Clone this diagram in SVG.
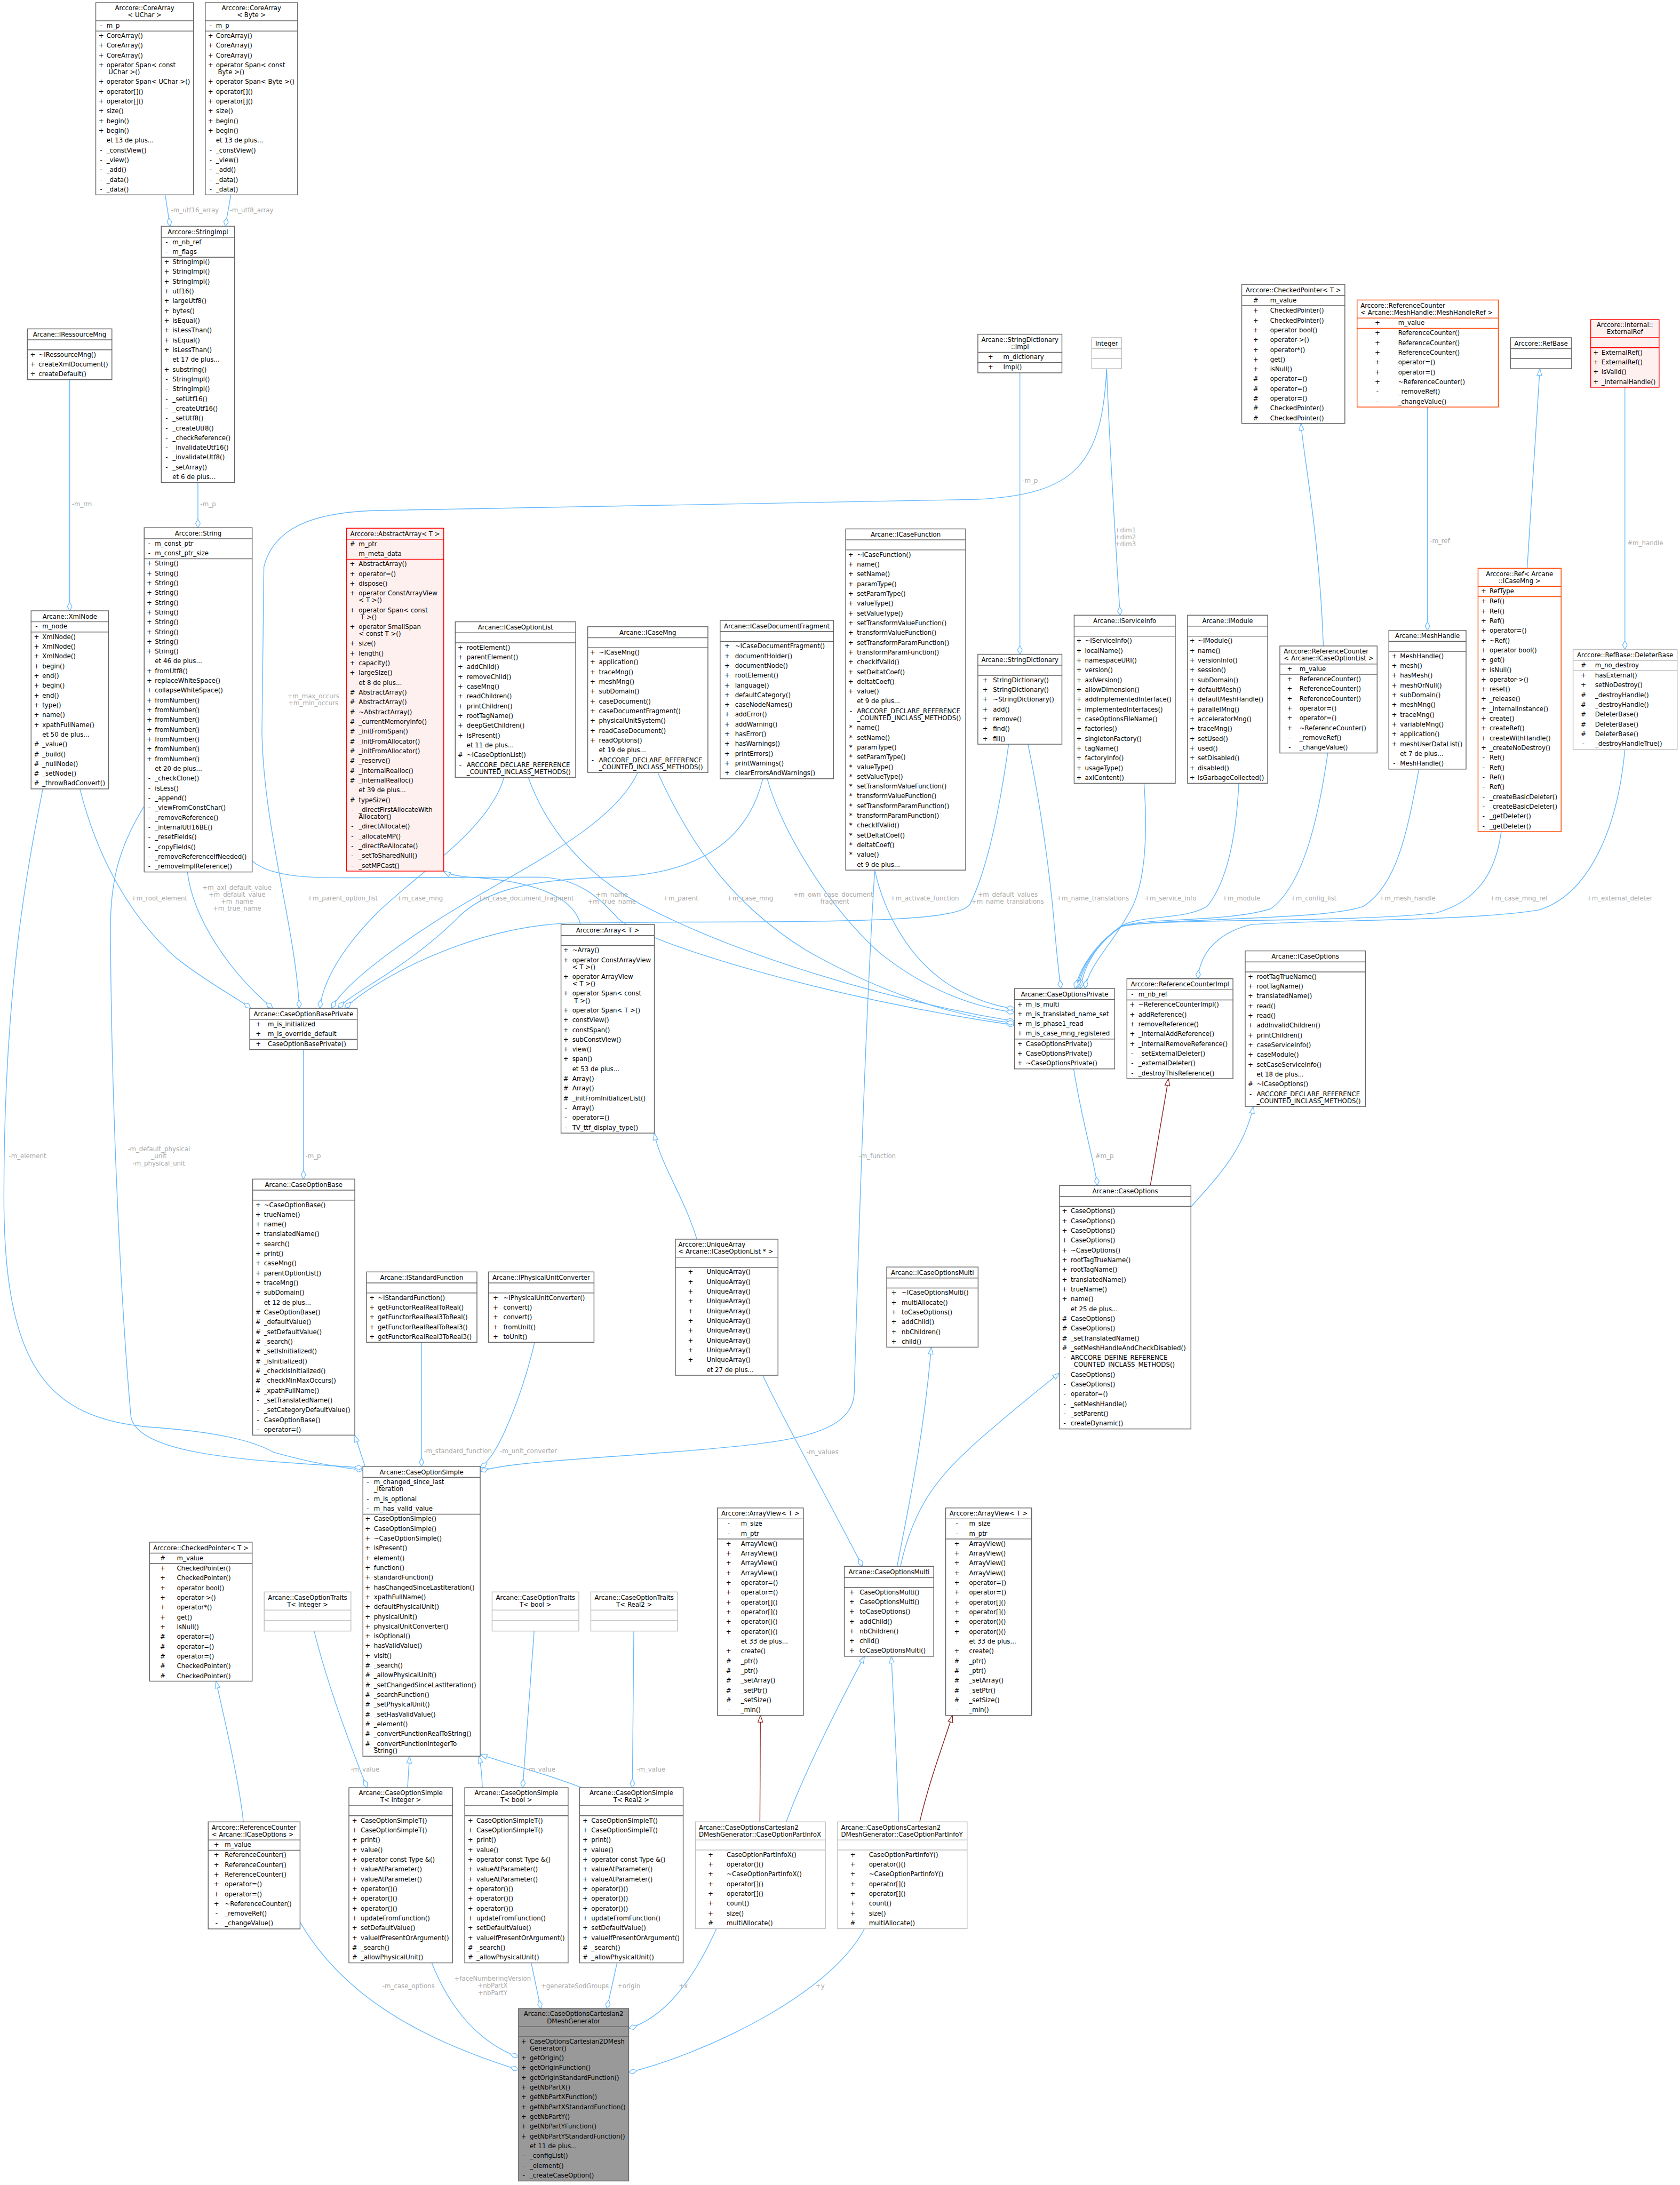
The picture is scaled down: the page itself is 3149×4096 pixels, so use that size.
<svg xmlns="http://www.w3.org/2000/svg" width="3149" height="4096" viewBox="0 0 3149 4096">
<style>
text{font-family:"DejaVu Sans","Liberation Sans",sans-serif;font-size:12.85px;fill:#000}
.t{text-anchor:middle}
.c{text-anchor:middle}
.b{fill:#fff;stroke:#666;stroke-width:1.6}
.s{fill:none;stroke:#666;stroke-width:1.6}
.bl{fill:#fff;stroke:#bfbfbf;stroke-width:1.6}
.sl{fill:none;stroke:#bfbfbf;stroke-width:1.6}
.br{fill:#fff0f0;stroke:#f00;stroke-width:1.6}
.sr{fill:none;stroke:#f00;stroke-width:1.6}
.bo{fill:#fff;stroke:#ff4500;stroke-width:1.6}
.so{fill:none;stroke:#ff4500;stroke-width:1.6}
.bm{fill:#999;stroke:#666;stroke-width:1.6}
.e{fill:none;stroke:#63b8ff;stroke-width:1.5}
.ed{fill:none;stroke:#8b1a1a;stroke-width:1.5}
.d{marker-end:url(#dia)}
.i{marker-end:url(#tri)}
.ir{marker-end:url(#trir)}
.l{fill:#a9a9a9}
.lm{fill:#a9a9a9;text-anchor:middle}
</style>
<defs>
<marker id="dia" markerWidth="20" markerHeight="12" refX="18.5" refY="6" orient="auto" markerUnits="userSpaceOnUse" viewBox="0 0 20 12"><path d="M1,6 L9.75,1.2 L18.5,6 L9.75,10.8 Z" fill="#fff" stroke="#63b8ff" stroke-width="1.3"/></marker>
<marker id="tri" markerWidth="16" markerHeight="12" refX="15" refY="6" orient="auto" markerUnits="userSpaceOnUse" viewBox="0 0 16 12"><path d="M1,1 L15,6 L1,11 Z" fill="#fff" stroke="#63b8ff" stroke-width="1.3"/></marker>
<marker id="trir" markerWidth="16" markerHeight="12" refX="15" refY="6" orient="auto" markerUnits="userSpaceOnUse" viewBox="0 0 16 12"><path d="M1,1 L15,6 L1,11 Z" fill="#fff" stroke="#8b1a1a" stroke-width="1.3"/></marker>
</defs>
<rect width="3149" height="4096" fill="#fff"/>
<g transform="scale(0.916)">
<g id="connectors">
<path class="e d" d="M338,399 L348,463"/>
<path class="e d" d="M472.5,399 L461,463"/>
<path class="e d" d="M405,987.5 L405,1080"/>
<path class="e d" d="M142.6,777 L142.6,1250"/>
<path class="e d" d="M87.7,1614.5 C50,1800 8,2050 8,2450 C8,2800 100,2900 300,2920 C450,2930 520,2950 560,2972 C640,2995 700,3003 742.6,3009"/>
<path class="e d" d="M295,1650 C245,1730 226,1800 226,1900 C228,2300 250,2700 268,2900 C285,2985 560,2990 742.6,3004"/>
<path class="e d" d="M163.5,1614.5 C200,1760 270,1880 360,1960 C430,2015 490,2045 513,2063.5"/>
<path class="e d" d="M383.5,1784.5 C395,1880 470,1990 558,2063.5"/>
<path class="e d" d="M2264.5,754.5 C2255,950 2200,1012 2000,1022 L760,1045 C640,1050 560,1080 540,1160 L536,1500 C540,1700 605,1900 612.5,2063.5"/>
<path class="e d" d="M1031.5,1590.8 C1000,1700 850,1790 770,1870 C700,1940 660,2010 654.5,2063.5"/>
<path class="e d" d="M1305,1581 C1250,1700 1040,1790 900,1880 C790,1950 700,2020 678.6,2063.5"/>
<path class="e d" d="M1561,1593.7 C1530,1720 1430,1790 1250,1795 C1060,1800 980,1830 930,1885 C820,1990 720,2030 692,2063.5"/>
<path class="e d" d="M2064,1523 C2040,1700 2010,1800 1985,1850 C1965,1882 1800,1887 1400,1887 L1160,1889 C950,1900 760,2010 705.4,2063.5"/>
<path class="e d" d="M516,1762 C560,1800 650,1797 800,1796 L1100,1795 C1180,1795 1225,1835 1265,1880 C1320,1930 1700,2045 2076,2098"/>
<path class="e d" d="M1081,1590.8 C1120,1700 1200,1790 1310,1850 C1500,1950 1800,2045 2076,2090"/>
<path class="e d" d="M1346,1581 C1400,1700 1480,1840 1650,1945 C1800,2030 1950,2080 2076,2094"/>
<path class="e d" d="M1570,1593.7 C1600,1700 1690,1850 1800,1950 C1900,2030 2000,2062 2076,2072"/>
<path class="e d" d="M1790,1780.7 C1805,1850 1850,1960 1950,2020 C2000,2048 2040,2060 2076,2064"/>
<path class="e d" d="M2103.5,1523 C2130,1650 2150,1800 2158,1900 C2163,1960 2168,2000 2170.6,2023"/>
<path class="e d" d="M2341,1603 C2348,1700 2345,1790 2320,1850 C2280,1930 2230,1970 2220,2023"/>
<path class="e d" d="M2535,1603 C2530,1700 2515,1800 2470,1855 C2420,1885 2330,1870 2290,1898 C2240,1935 2215,1985 2212,2023"/>
<path class="e d" d="M2717,1541 C2700,1660 2670,1810 2600,1860 C2500,1890 2330,1876 2292,1898 C2240,1935 2212,1985 2207,2023"/>
<path class="e d" d="M2903.6,1574 C2880,1700 2860,1810 2790,1855 C2700,1885 2380,1878 2295,1896 C2240,1930 2210,1985 2203,2023"/>
<path class="e d" d="M3072,1702 C3060,1790 3020,1845 2940,1868 C2780,1888 2380,1880 2298,1894 C2240,1930 2208,1985 2200,2023"/>
<path class="e d" d="M3325,1533.5 C3310,1700 3250,1830 3150,1862 C3000,1886 2700,1882 2560,1892 C2480,1912 2455,1960 2451,2003"/>
<path class="e d" d="M621,2148 L621,2413"/>
<path class="e d" d="M2197,2187.5 C2215,2300 2240,2380 2245.6,2426"/>
<path class="e d" d="M1790,1780.7 C1770,2100 1755,2600 1748,2850 C1745,2940 1600,2952 1420,2968 C1200,2986 1040,2992 982.6,3011"/>
<path class="e d" d="M862.7,2747 L862.7,3001"/>
<path class="e d" d="M1094,2747 C1070,2850 1030,2945 1005,2980 C995,2993 988,3000 982.6,3004"/>
<path class="e d" d="M1560.7,2814.5 C1600,2900 1690,3060 1765,3205.6"/>
<path class="e d" d="M643,3338 C670,3450 720,3580 751,3658.5"/>
<path class="e d" d="M1093,3338 C1085,3450 1075,3580 1069.5,3658.5"/>
<path class="e d" d="M1297,3338 L1294,3658.5"/>
<path class="e d" d="M614,3934 C700,4080 850,4170 1061,4236"/>
<path class="e d" d="M883.5,4017 C920,4110 980,4180 1061,4210"/>
<path class="e d" d="M1087,4017 L1106.7,4110.6"/>
<path class="e d" d="M1262.7,4017 L1242,4110.6"/>
<path class="e d" d="M1466,3947 C1420,4050 1360,4130 1286.5,4151"/>
<path class="e d" d="M1769,3947 C1700,4080 1450,4200 1286.5,4241.5"/>
<path class="e d" d="M2087,763 L2087,1339"/>
<path class="e d" d="M2264.5,754.5 C2270,900 2282,1100 2292,1259"/>
<path class="e d" d="M2921,833 L2921,1290"/>
<path class="e d" d="M3325,792.5 L3325,1329"/>
<path class="e i" d="M2708,1322 C2700,1100 2670,950 2662,866.5"/>
<path class="e i" d="M3125,1163 C3135,1000 3145,850 3151,754.5"/>
<path class="e i" d="M1188,1892 C1170,1820 1050,1800 960,1795 C935,1793 918,1789 908,1782.7"/>
<path class="e i" d="M1426,2536 C1400,2450 1350,2380 1339,2318.9"/>
<path class="ed ir" d="M2354,2426 L2391,2207.5"/>
<path class="e i" d="M2437,2470 C2500,2400 2545,2350 2565,2264.3"/>
<path class="e i" d="M1842.5,3205.6 C1870,3080 1920,3020 2011,2940 C2080,2880 2130,2840 2168,2810"/>
<path class="e i" d="M1835.6,3205.6 C1860,3080 1890,2940 1905.7,2757"/>
<path class="e i" d="M747,3001 L726,2937"/>
<path class="e i" d="M834,3658.5 L838,3594.1"/>
<path class="e i" d="M987,3658.5 C986,3630 984,3610 980,3594.1"/>
<path class="e i" d="M1190,3658.5 C1120,3630 1020,3605 982.6,3590"/>
<path class="e i" d="M498,3728.5 C490,3650 460,3520 442,3440.5"/>
<path class="ed ir" d="M1555,3728.5 L1556,3510.5"/>
<path class="e i" d="M1609,3728.5 C1640,3640 1720,3480 1769,3389.6"/>
<path class="e i" d="M1839,3728.5 C1835,3600 1828,3480 1824,3389.6"/>
<path class="ed ir" d="M1882,3728.5 C1900,3650 1930,3570 1949,3510.5"/>
<text class="l" x="350" y="434.5">-m_utf16_array</text>
<text class="l" x="470" y="434.5">-m_utf8_array</text>
<text class="l" x="410" y="1036.5">-m_p</text>
<text class="l" x="147" y="1036.5">-m_rm</text>
<text class="lm" x="641" y="1428.5">+m_max_occurs<tspan x="641" dy="14.5">+m_min_occurs</tspan></text>
<text class="l" x="2092" y="988.5">-m_p</text>
<text class="lm" x="2303" y="1089">+dim1<tspan x="2303" dy="14.5">+dim2</tspan><tspan x="2303" dy="14.5">+dim3</tspan></text>
<text class="l" x="2926" y="1111">-m_ref</text>
<text class="l" x="3330" y="1116">#m_handle</text>
<text class="lm" x="326" y="1842.5">+m_root_element</text>
<text class="lm" x="485" y="1820.5">+m_axl_default_value<tspan x="485" dy="14.5">+m_default_value</tspan><tspan x="485" dy="14.5">+m_name</tspan><tspan x="485" dy="14.5">+m_true_name</tspan></text>
<text class="lm" x="701" y="1842.5">+m_parent_option_list</text>
<text class="lm" x="859" y="1842.5">+m_case_mng</text>
<text class="lm" x="1076" y="1842.5">+m_case_document_fragment</text>
<text class="lm" x="1252" y="1835">+m_name<tspan x="1252" dy="14.5">+m_true_name</tspan></text>
<text class="lm" x="1393" y="1842.5">+m_parent</text>
<text class="lm" x="1535" y="1842.5">+m_case_mng</text>
<text class="lm" x="1705" y="1835">+m_own_case_document<tspan x="1705" dy="14.5">_fragment</tspan></text>
<text class="lm" x="1892" y="1842.5">+m_activate_function</text>
<text class="lm" x="2062" y="1835">+m_default_values<tspan x="2062" dy="14.5">+m_name_translations</tspan></text>
<text class="lm" x="2236" y="1842.5">+m_name_translations</text>
<text class="lm" x="2395" y="1842.5">+m_service_info</text>
<text class="lm" x="2540" y="1842.5">+m_module</text>
<text class="lm" x="2688" y="1842.5">+m_config_list</text>
<text class="lm" x="2880" y="1842.5">+m_mesh_handle</text>
<text class="lm" x="3108" y="1842.5">+m_case_mng_ref</text>
<text class="lm" x="3314" y="1842.5">+m_external_deleter</text>
<text class="l" x="18" y="2370.5">-m_element</text>
<text class="lm" x="325" y="2355.5">-m_default_physical<tspan x="325" dy="15">_unit</tspan><tspan x="325" dy="15">-m_physical_unit</tspan></text>
<text class="l" x="625" y="2370.5">-m_p</text>
<text class="l" x="1757" y="2370.5">-m_function</text>
<text class="l" x="2241" y="2370.5">#m_p</text>
<text class="l" x="867" y="2973.5">-m_standard_function</text>
<text class="l" x="1023" y="2973.5">-m_unit_converter</text>
<text class="lm" x="1683" y="2976">-m_values</text>
<text class="lm" x="747" y="3626">-m_value</text>
<text class="lm" x="1107" y="3626">-m_value</text>
<text class="lm" x="1332" y="3626">-m_value</text>
<text class="lm" x="836" y="4068.5">-m_case_options</text>
<text class="lm" x="1008" y="4053.5">+faceNumberingVersion<tspan x="1008" dy="14.5">+nbPartX</tspan><tspan x="1008" dy="14.5">+nbPartY</tspan></text>
<text class="l" x="1107" y="4068.5">+generateSodGroups</text>
<text class="l" x="1263" y="4068.5">+origin</text>
<text class="l" x="1389" y="4068.5">+x</text>
<text class="l" x="1669" y="4068.5">+y</text>
</g>

<g id="core_array_uchar">
<rect class="b" x="196" y="5.5" width="200" height="393.3"/>
<path class="s" d="M196 42.5h200M196 63.5h200"/>
<text class="t" x="296" y="21">Arccore::CoreArray<tspan x="296" dy="14.3">&lt; UChar &gt;</tspan></text>
<text><tspan class="c" x="207" y="56.5">-</tspan><tspan x="218">m_p</tspan></text>
<text><tspan class="c" x="207" y="77.5">+</tspan><tspan x="218">CoreArray()</tspan><tspan class="c" x="207" dy="20">+</tspan><tspan x="218">CoreArray()</tspan><tspan class="c" x="207" dy="20">+</tspan><tspan x="218">CoreArray()</tspan><tspan class="c" x="207" dy="20">+</tspan><tspan x="218">operator Span&lt; const</tspan><tspan x="222" dy="14.3">UChar &gt;()</tspan><tspan class="c" x="207" dy="20">+</tspan><tspan x="218">operator Span&lt; UChar &gt;()</tspan><tspan class="c" x="207" dy="20">+</tspan><tspan x="218">operator[]()</tspan><tspan class="c" x="207" dy="20">+</tspan><tspan x="218">operator[]()</tspan><tspan class="c" x="207" dy="20">+</tspan><tspan x="218">size()</tspan><tspan class="c" x="207" dy="20">+</tspan><tspan x="218">begin()</tspan><tspan class="c" x="207" dy="20">+</tspan><tspan x="218">begin()</tspan><tspan x="218" dy="20">et 13 de plus...</tspan><tspan class="c" x="207" dy="20">-</tspan><tspan x="218">_constView()</tspan><tspan class="c" x="207" dy="20">-</tspan><tspan x="218">_view()</tspan><tspan class="c" x="207" dy="20">-</tspan><tspan x="218">_add()</tspan><tspan class="c" x="207" dy="20">-</tspan><tspan x="218">_data()</tspan><tspan class="c" x="207" dy="20">-</tspan><tspan x="218">_data()</tspan></text>
</g>

<g id="core_array_byte">
<rect class="b" x="420" y="5.5" width="189" height="393.3"/>
<path class="s" d="M420 42.5h189M420 63.5h189"/>
<text class="t" x="514.5" y="21">Arccore::CoreArray<tspan x="514.5" dy="14.3">&lt; Byte &gt;</tspan></text>
<text><tspan class="c" x="431" y="56.5">-</tspan><tspan x="442">m_p</tspan></text>
<text><tspan class="c" x="431" y="77.5">+</tspan><tspan x="442">CoreArray()</tspan><tspan class="c" x="431" dy="20">+</tspan><tspan x="442">CoreArray()</tspan><tspan class="c" x="431" dy="20">+</tspan><tspan x="442">CoreArray()</tspan><tspan class="c" x="431" dy="20">+</tspan><tspan x="442">operator Span&lt; const</tspan><tspan x="446" dy="14.3">Byte &gt;()</tspan><tspan class="c" x="431" dy="20">+</tspan><tspan x="442">operator Span&lt; Byte &gt;()</tspan><tspan class="c" x="431" dy="20">+</tspan><tspan x="442">operator[]()</tspan><tspan class="c" x="431" dy="20">+</tspan><tspan x="442">operator[]()</tspan><tspan class="c" x="431" dy="20">+</tspan><tspan x="442">size()</tspan><tspan class="c" x="431" dy="20">+</tspan><tspan x="442">begin()</tspan><tspan class="c" x="431" dy="20">+</tspan><tspan x="442">begin()</tspan><tspan x="442" dy="20">et 13 de plus...</tspan><tspan class="c" x="431" dy="20">-</tspan><tspan x="442">_constView()</tspan><tspan class="c" x="431" dy="20">-</tspan><tspan x="442">_view()</tspan><tspan class="c" x="431" dy="20">-</tspan><tspan x="442">_add()</tspan><tspan class="c" x="431" dy="20">-</tspan><tspan x="442">_data()</tspan><tspan class="c" x="431" dy="20">-</tspan><tspan x="442">_data()</tspan></text>
</g>

<g id="string_impl">
<rect class="b" x="330" y="463" width="150" height="524.5"/>
<path class="s" d="M330 485.5h150M330 526.5h150"/>
<text class="t" x="405" y="479">Arccore::StringImpl</text>
<text><tspan class="c" x="341" y="499.5">-</tspan><tspan x="353">m_nb_ref</tspan><tspan class="c" x="341" dy="20">-</tspan><tspan x="353">m_flags</tspan></text>
<text><tspan class="c" x="341" y="540.5">+</tspan><tspan x="353">StringImpl()</tspan><tspan class="c" x="341" dy="20">+</tspan><tspan x="353">StringImpl()</tspan><tspan class="c" x="341" dy="20">+</tspan><tspan x="353">StringImpl()</tspan><tspan class="c" x="341" dy="20">+</tspan><tspan x="353">utf16()</tspan><tspan class="c" x="341" dy="20">+</tspan><tspan x="353">largeUtf8()</tspan><tspan class="c" x="341" dy="20">+</tspan><tspan x="353">bytes()</tspan><tspan class="c" x="341" dy="20">+</tspan><tspan x="353">isEqual()</tspan><tspan class="c" x="341" dy="20">+</tspan><tspan x="353">isLessThan()</tspan><tspan class="c" x="341" dy="20">+</tspan><tspan x="353">isEqual()</tspan><tspan class="c" x="341" dy="20">+</tspan><tspan x="353">isLessThan()</tspan><tspan x="353" dy="20">et 17 de plus...</tspan><tspan class="c" x="341" dy="20">+</tspan><tspan x="353">substring()</tspan><tspan class="c" x="341" dy="20">-</tspan><tspan x="353">StringImpl()</tspan><tspan class="c" x="341" dy="20">-</tspan><tspan x="353">StringImpl()</tspan><tspan class="c" x="341" dy="20">-</tspan><tspan x="353">_setUtf16()</tspan><tspan class="c" x="341" dy="20">-</tspan><tspan x="353">_createUtf16()</tspan><tspan class="c" x="341" dy="20">-</tspan><tspan x="353">_setUtf8()</tspan><tspan class="c" x="341" dy="20">-</tspan><tspan x="353">_createUtf8()</tspan><tspan class="c" x="341" dy="20">-</tspan><tspan x="353">_checkReference()</tspan><tspan class="c" x="341" dy="20">-</tspan><tspan x="353">_invalidateUtf16()</tspan><tspan class="c" x="341" dy="20">-</tspan><tspan x="353">_invalidateUtf8()</tspan><tspan class="c" x="341" dy="20">-</tspan><tspan x="353">_setArray()</tspan><tspan x="353" dy="20">et 6 de plus...</tspan></text>
</g>

<g id="iressource_mng">
<rect class="b" x="56" y="673" width="173" height="104"/>
<path class="s" d="M56 695.5h173M56 716h173"/>
<text class="t" x="142.5" y="689">Arcane::IRessourceMng</text>
<text><tspan class="c" x="67" y="730">+</tspan><tspan x="79">~IRessourceMng()</tspan><tspan class="c" x="67" dy="20">+</tspan><tspan x="79">createXmlDocument()</tspan><tspan class="c" x="67" dy="20">+</tspan><tspan x="79">createDefault()</tspan></text>
</g>

<g id="xml_node">
<rect class="b" x="63.6" y="1250" width="158.5" height="364.5"/>
<path class="s" d="M63.6 1272.5h158.5M63.6 1293.5h158.5"/>
<text class="t" x="142.85" y="1266">Arcane::XmlNode</text>
<text><tspan class="c" x="74.6" y="1286.5">-</tspan><tspan x="86.5">m_node</tspan></text>
<text><tspan class="c" x="74.6" y="1307.5">+</tspan><tspan x="86.5">XmlNode()</tspan><tspan class="c" x="74.6" dy="20">+</tspan><tspan x="86.5">XmlNode()</tspan><tspan class="c" x="74.6" dy="20">+</tspan><tspan x="86.5">XmlNode()</tspan><tspan class="c" x="74.6" dy="20">+</tspan><tspan x="86.5">begin()</tspan><tspan class="c" x="74.6" dy="20">+</tspan><tspan x="86.5">end()</tspan><tspan class="c" x="74.6" dy="20">+</tspan><tspan x="86.5">begin()</tspan><tspan class="c" x="74.6" dy="20">+</tspan><tspan x="86.5">end()</tspan><tspan class="c" x="74.6" dy="20">+</tspan><tspan x="86.5">type()</tspan><tspan class="c" x="74.6" dy="20">+</tspan><tspan x="86.5">name()</tspan><tspan class="c" x="74.6" dy="20">+</tspan><tspan x="86.5">xpathFullName()</tspan><tspan x="86.5" dy="20">et 50 de plus...</tspan><tspan class="c" x="74.6" dy="20">#</tspan><tspan x="86.5">_value()</tspan><tspan class="c" x="74.6" dy="20">#</tspan><tspan x="86.5">_build()</tspan><tspan class="c" x="74.6" dy="20">#</tspan><tspan x="86.5">_nullNode()</tspan><tspan class="c" x="74.6" dy="20">#</tspan><tspan x="86.5">_setNode()</tspan><tspan class="c" x="74.6" dy="20">#</tspan><tspan x="86.5">_throwBadConvert()</tspan></text>
</g>

<g id="string">
<rect class="b" x="295" y="1080" width="221" height="704.5"/>
<path class="s" d="M295 1102.5h221M295 1143.5h221"/>
<text class="t" x="405.5" y="1096">Arccore::String</text>
<text><tspan class="c" x="305.5" y="1116.5">-</tspan><tspan x="317">m_const_ptr</tspan><tspan class="c" x="305.5" dy="20">-</tspan><tspan x="317">m_const_ptr_size</tspan></text>
<text><tspan class="c" x="305.5" y="1157.5">+</tspan><tspan x="317">String()</tspan><tspan class="c" x="305.5" dy="20">+</tspan><tspan x="317">String()</tspan><tspan class="c" x="305.5" dy="20">+</tspan><tspan x="317">String()</tspan><tspan class="c" x="305.5" dy="20">+</tspan><tspan x="317">String()</tspan><tspan class="c" x="305.5" dy="20">+</tspan><tspan x="317">String()</tspan><tspan class="c" x="305.5" dy="20">+</tspan><tspan x="317">String()</tspan><tspan class="c" x="305.5" dy="20">+</tspan><tspan x="317">String()</tspan><tspan class="c" x="305.5" dy="20">+</tspan><tspan x="317">String()</tspan><tspan class="c" x="305.5" dy="20">+</tspan><tspan x="317">String()</tspan><tspan class="c" x="305.5" dy="20">+</tspan><tspan x="317">String()</tspan><tspan x="317" dy="20">et 46 de plus...</tspan><tspan class="c" x="305.5" dy="20">+</tspan><tspan x="317">fromUtf8()</tspan><tspan class="c" x="305.5" dy="20">+</tspan><tspan x="317">replaceWhiteSpace()</tspan><tspan class="c" x="305.5" dy="20">+</tspan><tspan x="317">collapseWhiteSpace()</tspan><tspan class="c" x="305.5" dy="20">+</tspan><tspan x="317">fromNumber()</tspan><tspan class="c" x="305.5" dy="20">+</tspan><tspan x="317">fromNumber()</tspan><tspan class="c" x="305.5" dy="20">+</tspan><tspan x="317">fromNumber()</tspan><tspan class="c" x="305.5" dy="20">+</tspan><tspan x="317">fromNumber()</tspan><tspan class="c" x="305.5" dy="20">+</tspan><tspan x="317">fromNumber()</tspan><tspan class="c" x="305.5" dy="20">+</tspan><tspan x="317">fromNumber()</tspan><tspan class="c" x="305.5" dy="20">+</tspan><tspan x="317">fromNumber()</tspan><tspan x="317" dy="20">et 20 de plus...</tspan><tspan class="c" x="305.5" dy="20">-</tspan><tspan x="317">_checkClone()</tspan><tspan class="c" x="305.5" dy="20">-</tspan><tspan x="317">isLess()</tspan><tspan class="c" x="305.5" dy="20">-</tspan><tspan x="317">_append()</tspan><tspan class="c" x="305.5" dy="20">-</tspan><tspan x="317">_viewFromConstChar()</tspan><tspan class="c" x="305.5" dy="20">-</tspan><tspan x="317">_removeReference()</tspan><tspan class="c" x="305.5" dy="20">-</tspan><tspan x="317">_internalUtf16BE()</tspan><tspan class="c" x="305.5" dy="20">-</tspan><tspan x="317">_resetFields()</tspan><tspan class="c" x="305.5" dy="20">-</tspan><tspan x="317">_copyFields()</tspan><tspan class="c" x="305.5" dy="20">-</tspan><tspan x="317">_removeReferenceIfNeeded()</tspan><tspan class="c" x="305.5" dy="20">-</tspan><tspan x="317">_removeImplReference()</tspan></text>
</g>

<g id="abstract_array">
<rect class="br" x="709" y="1081" width="199" height="701.7"/>
<path class="sr" d="M709 1103.5h199M709 1144.5h199"/>
<text class="t" x="808.5" y="1097">Arccore::AbstractArray&lt; T &gt;</text>
<text><tspan class="c" x="721" y="1117.5">#</tspan><tspan x="734">m_ptr</tspan><tspan class="c" x="721" dy="20">-</tspan><tspan x="734">m_meta_data</tspan></text>
<text><tspan class="c" x="721" y="1158.5">+</tspan><tspan x="734">AbstractArray()</tspan><tspan class="c" x="721" dy="20">+</tspan><tspan x="734">operator=()</tspan><tspan class="c" x="721" dy="20">+</tspan><tspan x="734">dispose()</tspan><tspan class="c" x="721" dy="20">+</tspan><tspan x="734">operator ConstArrayView</tspan><tspan x="734" dy="14.3">&lt; T &gt;()</tspan><tspan class="c" x="721" dy="20">+</tspan><tspan x="734">operator Span&lt; const</tspan><tspan x="738" dy="14.3">T &gt;()</tspan><tspan class="c" x="721" dy="20">+</tspan><tspan x="734">operator SmallSpan</tspan><tspan x="734" dy="14.3">&lt; const T &gt;()</tspan><tspan class="c" x="721" dy="20">+</tspan><tspan x="734">size()</tspan><tspan class="c" x="721" dy="20">+</tspan><tspan x="734">length()</tspan><tspan class="c" x="721" dy="20">+</tspan><tspan x="734">capacity()</tspan><tspan class="c" x="721" dy="20">+</tspan><tspan x="734">largeSize()</tspan><tspan x="734" dy="20">et 8 de plus...</tspan><tspan class="c" x="721" dy="20">#</tspan><tspan x="734">AbstractArray()</tspan><tspan class="c" x="721" dy="20">#</tspan><tspan x="734">AbstractArray()</tspan><tspan class="c" x="721" dy="20">#</tspan><tspan x="734">~AbstractArray()</tspan><tspan class="c" x="721" dy="20">#</tspan><tspan x="734">_currentMemoryInfo()</tspan><tspan class="c" x="721" dy="20">#</tspan><tspan x="734">_initFromSpan()</tspan><tspan class="c" x="721" dy="20">#</tspan><tspan x="734">_initFromAllocator()</tspan><tspan class="c" x="721" dy="20">#</tspan><tspan x="734">_initFromAllocator()</tspan><tspan class="c" x="721" dy="20">#</tspan><tspan x="734">_reserve()</tspan><tspan class="c" x="721" dy="20">#</tspan><tspan x="734">_internalRealloc()</tspan><tspan class="c" x="721" dy="20">#</tspan><tspan x="734">_internalRealloc()</tspan><tspan x="734" dy="20">et 39 de plus...</tspan><tspan class="c" x="721" dy="20">#</tspan><tspan x="734">typeSize()</tspan><tspan class="c" x="721" dy="20">-</tspan><tspan x="734">_directFirstAllocateWith</tspan><tspan x="734" dy="14.3">Allocator()</tspan><tspan class="c" x="721" dy="20">-</tspan><tspan x="734">_directAllocate()</tspan><tspan class="c" x="721" dy="20">-</tspan><tspan x="734">_allocateMP()</tspan><tspan class="c" x="721" dy="20">-</tspan><tspan x="734">_directReAllocate()</tspan><tspan class="c" x="721" dy="20">-</tspan><tspan x="734">_setToSharedNull()</tspan><tspan class="c" x="721" dy="20">-</tspan><tspan x="734">_setMPCast()</tspan></text>
</g>

<g id="icase_option_list">
<rect class="b" x="931.5" y="1272.5" width="246.5" height="318.3"/>
<path class="s" d="M931.5 1295h246.5M931.5 1315.5h246.5"/>
<text class="t" x="1054.75" y="1288.5">Arcane::ICaseOptionList</text>
<text><tspan class="c" x="942" y="1329.5">+</tspan><tspan x="955">rootElement()</tspan><tspan class="c" x="942" dy="20">+</tspan><tspan x="955">parentElement()</tspan><tspan class="c" x="942" dy="20">+</tspan><tspan x="955">addChild()</tspan><tspan class="c" x="942" dy="20">+</tspan><tspan x="955">removeChild()</tspan><tspan class="c" x="942" dy="20">+</tspan><tspan x="955">caseMng()</tspan><tspan class="c" x="942" dy="20">+</tspan><tspan x="955">readChildren()</tspan><tspan class="c" x="942" dy="20">+</tspan><tspan x="955">printChildren()</tspan><tspan class="c" x="942" dy="20">+</tspan><tspan x="955">rootTagName()</tspan><tspan class="c" x="942" dy="20">+</tspan><tspan x="955">deepGetChildren()</tspan><tspan class="c" x="942" dy="20">+</tspan><tspan x="955">isPresent()</tspan><tspan x="955" dy="20">et 11 de plus...</tspan><tspan class="c" x="942" dy="20">#</tspan><tspan x="955">~ICaseOptionList()</tspan><tspan class="c" x="942" dy="20">-</tspan><tspan x="955">ARCCORE_DECLARE_REFERENCE</tspan><tspan x="955" dy="14.3">_COUNTED_INCLASS_METHODS()</tspan></text>
</g>

<g id="icase_mng">
<rect class="b" x="1202.6" y="1282.6" width="246" height="298.3"/>
<path class="s" d="M1202.6 1305.1h246M1202.6 1325.6h246"/>
<text class="t" x="1325.6" y="1298.6">Arcane::ICaseMng</text>
<text><tspan class="c" x="1212.7" y="1339.6">+</tspan><tspan x="1225.5">~ICaseMng()</tspan><tspan class="c" x="1212.7" dy="20">+</tspan><tspan x="1225.5">application()</tspan><tspan class="c" x="1212.7" dy="20">+</tspan><tspan x="1225.5">traceMng()</tspan><tspan class="c" x="1212.7" dy="20">+</tspan><tspan x="1225.5">meshMng()</tspan><tspan class="c" x="1212.7" dy="20">+</tspan><tspan x="1225.5">subDomain()</tspan><tspan class="c" x="1212.7" dy="20">+</tspan><tspan x="1225.5">caseDocument()</tspan><tspan class="c" x="1212.7" dy="20">+</tspan><tspan x="1225.5">caseDocumentFragment()</tspan><tspan class="c" x="1212.7" dy="20">+</tspan><tspan x="1225.5">physicalUnitSystem()</tspan><tspan class="c" x="1212.7" dy="20">+</tspan><tspan x="1225.5">readCaseDocument()</tspan><tspan class="c" x="1212.7" dy="20">+</tspan><tspan x="1225.5">readOptions()</tspan><tspan x="1225.5" dy="20">et 19 de plus...</tspan><tspan class="c" x="1212.7" dy="20">-</tspan><tspan x="1225.5">ARCCORE_DECLARE_REFERENCE</tspan><tspan x="1225.5" dy="14.3">_COUNTED_INCLASS_METHODS()</tspan></text>
</g>

<g id="icase_document_fragment">
<rect class="b" x="1473.6" y="1269.7" width="232" height="324"/>
<path class="s" d="M1473.6 1292.2h232M1473.6 1312.7h232"/>
<text class="t" x="1589.6" y="1285.7">Arcane::ICaseDocumentFragment</text>
<text><tspan class="c" x="1488" y="1326.7">+</tspan><tspan x="1504">~ICaseDocumentFragment()</tspan><tspan class="c" x="1488" dy="20">+</tspan><tspan x="1504">documentHolder()</tspan><tspan class="c" x="1488" dy="20">+</tspan><tspan x="1504">documentNode()</tspan><tspan class="c" x="1488" dy="20">+</tspan><tspan x="1504">rootElement()</tspan><tspan class="c" x="1488" dy="20">+</tspan><tspan x="1504">language()</tspan><tspan class="c" x="1488" dy="20">+</tspan><tspan x="1504">defaultCategory()</tspan><tspan class="c" x="1488" dy="20">+</tspan><tspan x="1504">caseNodeNames()</tspan><tspan class="c" x="1488" dy="20">+</tspan><tspan x="1504">addError()</tspan><tspan class="c" x="1488" dy="20">+</tspan><tspan x="1504">addWarning()</tspan><tspan class="c" x="1488" dy="20">+</tspan><tspan x="1504">hasError()</tspan><tspan class="c" x="1488" dy="20">+</tspan><tspan x="1504">hasWarnings()</tspan><tspan class="c" x="1488" dy="20">+</tspan><tspan x="1504">printErrors()</tspan><tspan class="c" x="1488" dy="20">+</tspan><tspan x="1504">printWarnings()</tspan><tspan class="c" x="1488" dy="20">+</tspan><tspan x="1504">clearErrorsAndWarnings()</tspan></text>
</g>

<g id="icase_function">
<rect class="b" x="1730.5" y="1082.4" width="245.5" height="698.3"/>
<path class="s" d="M1730.5 1104.9h245.5M1730.5 1125.4h245.5"/>
<text class="t" x="1853.25" y="1098.4">Arcane::ICaseFunction</text>
<text><tspan class="c" x="1741" y="1139.4">+</tspan><tspan x="1753.5">~ICaseFunction()</tspan><tspan class="c" x="1741" dy="20">+</tspan><tspan x="1753.5">name()</tspan><tspan class="c" x="1741" dy="20">+</tspan><tspan x="1753.5">setName()</tspan><tspan class="c" x="1741" dy="20">+</tspan><tspan x="1753.5">paramType()</tspan><tspan class="c" x="1741" dy="20">+</tspan><tspan x="1753.5">setParamType()</tspan><tspan class="c" x="1741" dy="20">+</tspan><tspan x="1753.5">valueType()</tspan><tspan class="c" x="1741" dy="20">+</tspan><tspan x="1753.5">setValueType()</tspan><tspan class="c" x="1741" dy="20">+</tspan><tspan x="1753.5">setTransformValueFunction()</tspan><tspan class="c" x="1741" dy="20">+</tspan><tspan x="1753.5">transformValueFunction()</tspan><tspan class="c" x="1741" dy="20">+</tspan><tspan x="1753.5">setTransformParamFunction()</tspan><tspan class="c" x="1741" dy="20">+</tspan><tspan x="1753.5">transformParamFunction()</tspan><tspan class="c" x="1741" dy="20">+</tspan><tspan x="1753.5">checkIfValid()</tspan><tspan class="c" x="1741" dy="20">+</tspan><tspan x="1753.5">setDeltatCoef()</tspan><tspan class="c" x="1741" dy="20">+</tspan><tspan x="1753.5">deltatCoef()</tspan><tspan class="c" x="1741" dy="20">+</tspan><tspan x="1753.5">value()</tspan><tspan x="1753.5" dy="20">et 9 de plus...</tspan><tspan class="c" x="1741" dy="20">-</tspan><tspan x="1753.5">ARCCORE_DECLARE_REFERENCE</tspan><tspan x="1753.5" dy="14.3">_COUNTED_INCLASS_METHODS()</tspan><tspan class="c" x="1741" dy="20">*</tspan><tspan x="1753.5">name()</tspan><tspan class="c" x="1741" dy="20">*</tspan><tspan x="1753.5">setName()</tspan><tspan class="c" x="1741" dy="20">*</tspan><tspan x="1753.5">paramType()</tspan><tspan class="c" x="1741" dy="20">*</tspan><tspan x="1753.5">setParamType()</tspan><tspan class="c" x="1741" dy="20">*</tspan><tspan x="1753.5">valueType()</tspan><tspan class="c" x="1741" dy="20">*</tspan><tspan x="1753.5">setValueType()</tspan><tspan class="c" x="1741" dy="20">*</tspan><tspan x="1753.5">setTransformValueFunction()</tspan><tspan class="c" x="1741" dy="20">*</tspan><tspan x="1753.5">transformValueFunction()</tspan><tspan class="c" x="1741" dy="20">*</tspan><tspan x="1753.5">setTransformParamFunction()</tspan><tspan class="c" x="1741" dy="20">*</tspan><tspan x="1753.5">transformParamFunction()</tspan><tspan class="c" x="1741" dy="20">*</tspan><tspan x="1753.5">checkIfValid()</tspan><tspan class="c" x="1741" dy="20">*</tspan><tspan x="1753.5">setDeltatCoef()</tspan><tspan class="c" x="1741" dy="20">*</tspan><tspan x="1753.5">deltatCoef()</tspan><tspan class="c" x="1741" dy="20">*</tspan><tspan x="1753.5">value()</tspan><tspan x="1753.5" dy="20">et 9 de plus...</tspan></text>
</g>

<g id="string_dictionary_impl">
<rect class="b" x="2001" y="684" width="172" height="79"/>
<path class="s" d="M2001 721h172M2001 742h172"/>
<text class="t" x="2087" y="699.5">Arcane::StringDictionary<tspan x="2087" dy="14.3">::Impl</tspan></text>
<text><tspan class="c" x="2027" y="735">+</tspan><tspan x="2053">m_dictionary</tspan></text>
<text><tspan class="c" x="2027" y="756">+</tspan><tspan x="2053">Impl()</tspan></text>
</g>

<g id="integer">
<rect class="bl" x="2234" y="691" width="61" height="63.5"/>
<path class="sl" d="M2234 713.5h61M2234 734h61"/>
<text class="t" x="2264.5" y="707">Integer</text>
</g>

<g id="checked_pointer_1">
<rect class="b" x="2541" y="582" width="211" height="284.5"/>
<path class="s" d="M2541 604.5h211M2541 625.5h211"/>
<text class="t" x="2646.5" y="598">Arccore::CheckedPointer&lt; T &gt;</text>
<text><tspan class="c" x="2569.5" y="619">#</tspan><tspan x="2599">m_value</tspan></text>
<text><tspan class="c" x="2569.5" y="640">+</tspan><tspan x="2599">CheckedPointer()</tspan><tspan class="c" x="2569.5" dy="20">+</tspan><tspan x="2599">CheckedPointer()</tspan><tspan class="c" x="2569.5" dy="20">+</tspan><tspan x="2599">operator bool()</tspan><tspan class="c" x="2569.5" dy="20">+</tspan><tspan x="2599">operator-&gt;()</tspan><tspan class="c" x="2569.5" dy="20">+</tspan><tspan x="2599">operator*()</tspan><tspan class="c" x="2569.5" dy="20">+</tspan><tspan x="2599">get()</tspan><tspan class="c" x="2569.5" dy="20">+</tspan><tspan x="2599">isNull()</tspan><tspan class="c" x="2569.5" dy="20">#</tspan><tspan x="2599">operator=()</tspan><tspan class="c" x="2569.5" dy="20">#</tspan><tspan x="2599">operator=()</tspan><tspan class="c" x="2569.5" dy="20">#</tspan><tspan x="2599">operator=()</tspan><tspan class="c" x="2569.5" dy="20">#</tspan><tspan x="2599">CheckedPointer()</tspan><tspan class="c" x="2569.5" dy="20">#</tspan><tspan x="2599">CheckedPointer()</tspan></text>
</g>

<g id="reference_counter_mesh_handle_ref">
<rect class="bo" x="2777" y="614" width="289" height="219"/>
<path class="so" d="M2777 651h289M2777 672h289"/>
<text x="2784" y="629.5">Arccore::ReferenceCounter<tspan x="2784" dy="14.3">&lt; Arcane::MeshHandle::MeshHandleRef &gt;</tspan></text>
<text><tspan class="c" x="2818.6" y="665">+</tspan><tspan x="2861">m_value</tspan></text>
<text><tspan class="c" x="2818.6" y="686">+</tspan><tspan x="2861">ReferenceCounter()</tspan><tspan class="c" x="2818.6" dy="20">+</tspan><tspan x="2861">ReferenceCounter()</tspan><tspan class="c" x="2818.6" dy="20">+</tspan><tspan x="2861">ReferenceCounter()</tspan><tspan class="c" x="2818.6" dy="20">+</tspan><tspan x="2861">operator=()</tspan><tspan class="c" x="2818.6" dy="20">+</tspan><tspan x="2861">operator=()</tspan><tspan class="c" x="2818.6" dy="20">+</tspan><tspan x="2861">~ReferenceCounter()</tspan><tspan class="c" x="2818.6" dy="20">-</tspan><tspan x="2861">_removeRef()</tspan><tspan class="c" x="2818.6" dy="20">-</tspan><tspan x="2861">_changeValue()</tspan></text>
</g>

<g id="ref_base">
<rect class="b" x="3091" y="691" width="125" height="63.5"/>
<path class="s" d="M3091 713.5h125M3091 734h125"/>
<text class="t" x="3153.5" y="707">Arccore::RefBase</text>
</g>

<g id="external_ref">
<rect class="br" x="3255" y="654" width="140" height="138.5"/>
<path class="sr" d="M3255 691h140M3255 711.5h140"/>
<text class="t" x="3325" y="669.5">Arccore::Internal::<tspan x="3325" dy="14.3">ExternalRef</tspan></text>
<text><tspan class="c" x="3265.5" y="725.5">+</tspan><tspan x="3277">ExternalRef()</tspan><tspan class="c" x="3265.5" dy="20">+</tspan><tspan x="3277">ExternalRef()</tspan><tspan class="c" x="3265.5" dy="20">+</tspan><tspan x="3277">isValid()</tspan><tspan class="c" x="3265.5" dy="20">+</tspan><tspan x="3277">_internalHandle()</tspan></text>
</g>

<g id="string_dictionary">
<rect class="b" x="2001" y="1339" width="172" height="184"/>
<path class="s" d="M2001 1361.5h172M2001 1382h172"/>
<text class="t" x="2087" y="1355">Arcane::StringDictionary</text>
<text><tspan class="c" x="2016" y="1396">+</tspan><tspan x="2032">StringDictionary()</tspan><tspan class="c" x="2016" dy="20">+</tspan><tspan x="2032">StringDictionary()</tspan><tspan class="c" x="2016" dy="20">+</tspan><tspan x="2032">~StringDictionary()</tspan><tspan class="c" x="2016" dy="20">+</tspan><tspan x="2032">add()</tspan><tspan class="c" x="2016" dy="20">+</tspan><tspan x="2032">remove()</tspan><tspan class="c" x="2016" dy="20">+</tspan><tspan x="2032">find()</tspan><tspan class="c" x="2016" dy="20">+</tspan><tspan x="2032">fill()</tspan></text>
</g>

<g id="iservice_info">
<rect class="b" x="2198" y="1259" width="207" height="344"/>
<path class="s" d="M2198 1281.5h207M2198 1302h207"/>
<text class="t" x="2301.5" y="1275">Arcane::IServiceInfo</text>
<text><tspan class="c" x="2208" y="1316">+</tspan><tspan x="2220">~IServiceInfo()</tspan><tspan class="c" x="2208" dy="20">+</tspan><tspan x="2220">localName()</tspan><tspan class="c" x="2208" dy="20">+</tspan><tspan x="2220">namespaceURI()</tspan><tspan class="c" x="2208" dy="20">+</tspan><tspan x="2220">version()</tspan><tspan class="c" x="2208" dy="20">+</tspan><tspan x="2220">axlVersion()</tspan><tspan class="c" x="2208" dy="20">+</tspan><tspan x="2220">allowDimension()</tspan><tspan class="c" x="2208" dy="20">+</tspan><tspan x="2220">addImplementedInterface()</tspan><tspan class="c" x="2208" dy="20">+</tspan><tspan x="2220">implementedInterfaces()</tspan><tspan class="c" x="2208" dy="20">+</tspan><tspan x="2220">caseOptionsFileName()</tspan><tspan class="c" x="2208" dy="20">+</tspan><tspan x="2220">factories()</tspan><tspan class="c" x="2208" dy="20">+</tspan><tspan x="2220">singletonFactory()</tspan><tspan class="c" x="2208" dy="20">+</tspan><tspan x="2220">tagName()</tspan><tspan class="c" x="2208" dy="20">+</tspan><tspan x="2220">factoryInfo()</tspan><tspan class="c" x="2208" dy="20">+</tspan><tspan x="2220">usageType()</tspan><tspan class="c" x="2208" dy="20">+</tspan><tspan x="2220">axlContent()</tspan></text>
</g>

<g id="imodule">
<rect class="b" x="2430" y="1259" width="164" height="344"/>
<path class="s" d="M2430 1281.5h164M2430 1302h164"/>
<text class="t" x="2512" y="1275">Arcane::IModule</text>
<text><tspan class="c" x="2439.5" y="1316">+</tspan><tspan x="2451">~IModule()</tspan><tspan class="c" x="2439.5" dy="20">+</tspan><tspan x="2451">name()</tspan><tspan class="c" x="2439.5" dy="20">+</tspan><tspan x="2451">versionInfo()</tspan><tspan class="c" x="2439.5" dy="20">+</tspan><tspan x="2451">session()</tspan><tspan class="c" x="2439.5" dy="20">+</tspan><tspan x="2451">subDomain()</tspan><tspan class="c" x="2439.5" dy="20">+</tspan><tspan x="2451">defaultMesh()</tspan><tspan class="c" x="2439.5" dy="20">+</tspan><tspan x="2451">defaultMeshHandle()</tspan><tspan class="c" x="2439.5" dy="20">+</tspan><tspan x="2451">parallelMng()</tspan><tspan class="c" x="2439.5" dy="20">+</tspan><tspan x="2451">acceleratorMng()</tspan><tspan class="c" x="2439.5" dy="20">+</tspan><tspan x="2451">traceMng()</tspan><tspan class="c" x="2439.5" dy="20">+</tspan><tspan x="2451">setUsed()</tspan><tspan class="c" x="2439.5" dy="20">+</tspan><tspan x="2451">used()</tspan><tspan class="c" x="2439.5" dy="20">+</tspan><tspan x="2451">setDisabled()</tspan><tspan class="c" x="2439.5" dy="20">+</tspan><tspan x="2451">disabled()</tspan><tspan class="c" x="2439.5" dy="20">+</tspan><tspan x="2451">isGarbageCollected()</tspan></text>
</g>

<g id="reference_counter_icase_option_list">
<rect class="b" x="2619" y="1322" width="199" height="219"/>
<path class="s" d="M2619 1359h199M2619 1380h199"/>
<text x="2627" y="1337.5">Arccore::ReferenceCounter<tspan x="2627" dy="14.3">&lt; Arcane::ICaseOptionList &gt;</tspan></text>
<text><tspan class="c" x="2639" y="1373">+</tspan><tspan x="2659">m_value</tspan></text>
<text><tspan class="c" x="2639" y="1394">+</tspan><tspan x="2659">ReferenceCounter()</tspan><tspan class="c" x="2639" dy="20">+</tspan><tspan x="2659">ReferenceCounter()</tspan><tspan class="c" x="2639" dy="20">+</tspan><tspan x="2659">ReferenceCounter()</tspan><tspan class="c" x="2639" dy="20">+</tspan><tspan x="2659">operator=()</tspan><tspan class="c" x="2639" dy="20">+</tspan><tspan x="2659">operator=()</tspan><tspan class="c" x="2639" dy="20">+</tspan><tspan x="2659">~ReferenceCounter()</tspan><tspan class="c" x="2639" dy="20">-</tspan><tspan x="2659">_removeRef()</tspan><tspan class="c" x="2639" dy="20">-</tspan><tspan x="2659">_changeValue()</tspan></text>
</g>

<g id="mesh_handle">
<rect class="b" x="2842" y="1290" width="158" height="284"/>
<path class="s" d="M2842 1312.5h158M2842 1333h158"/>
<text class="t" x="2921" y="1306">Arcane::MeshHandle</text>
<text><tspan class="c" x="2853" y="1347">+</tspan><tspan x="2865">MeshHandle()</tspan><tspan class="c" x="2853" dy="20">+</tspan><tspan x="2865">mesh()</tspan><tspan class="c" x="2853" dy="20">+</tspan><tspan x="2865">hasMesh()</tspan><tspan class="c" x="2853" dy="20">+</tspan><tspan x="2865">meshOrNull()</tspan><tspan class="c" x="2853" dy="20">+</tspan><tspan x="2865">subDomain()</tspan><tspan class="c" x="2853" dy="20">+</tspan><tspan x="2865">meshMng()</tspan><tspan class="c" x="2853" dy="20">+</tspan><tspan x="2865">traceMng()</tspan><tspan class="c" x="2853" dy="20">+</tspan><tspan x="2865">variableMng()</tspan><tspan class="c" x="2853" dy="20">+</tspan><tspan x="2865">application()</tspan><tspan class="c" x="2853" dy="20">+</tspan><tspan x="2865">meshUserDataList()</tspan><tspan x="2865" dy="20">et 7 de plus...</tspan><tspan class="c" x="2853" dy="20">-</tspan><tspan x="2865">MeshHandle()</tspan></text>
</g>

<g id="ref_icase_mng">
<rect class="bo" x="3024.5" y="1163" width="170" height="539"/>
<path class="so" d="M3024.5 1200h170M3024.5 1221h170"/>
<text class="t" x="3109.5" y="1178.5">Arccore::Ref&lt; Arcane<tspan x="3109.5" dy="14.3">::ICaseMng &gt;</tspan></text>
<text><tspan class="c" x="3036" y="1214">+</tspan><tspan x="3048">RefType</tspan></text>
<text><tspan class="c" x="3036" y="1235">+</tspan><tspan x="3048">Ref()</tspan><tspan class="c" x="3036" dy="20">+</tspan><tspan x="3048">Ref()</tspan><tspan class="c" x="3036" dy="20">+</tspan><tspan x="3048">Ref()</tspan><tspan class="c" x="3036" dy="20">+</tspan><tspan x="3048">operator=()</tspan><tspan class="c" x="3036" dy="20">+</tspan><tspan x="3048">~Ref()</tspan><tspan class="c" x="3036" dy="20">+</tspan><tspan x="3048">operator bool()</tspan><tspan class="c" x="3036" dy="20">+</tspan><tspan x="3048">get()</tspan><tspan class="c" x="3036" dy="20">+</tspan><tspan x="3048">isNull()</tspan><tspan class="c" x="3036" dy="20">+</tspan><tspan x="3048">operator-&gt;()</tspan><tspan class="c" x="3036" dy="20">+</tspan><tspan x="3048">reset()</tspan><tspan class="c" x="3036" dy="20">+</tspan><tspan x="3048">_release()</tspan><tspan class="c" x="3036" dy="20">+</tspan><tspan x="3048">_internalInstance()</tspan><tspan class="c" x="3036" dy="20">+</tspan><tspan x="3048">create()</tspan><tspan class="c" x="3036" dy="20">+</tspan><tspan x="3048">createRef()</tspan><tspan class="c" x="3036" dy="20">+</tspan><tspan x="3048">createWithHandle()</tspan><tspan class="c" x="3036" dy="20">+</tspan><tspan x="3048">_createNoDestroy()</tspan><tspan class="c" x="3036" dy="20">-</tspan><tspan x="3048">Ref()</tspan><tspan class="c" x="3036" dy="20">-</tspan><tspan x="3048">Ref()</tspan><tspan class="c" x="3036" dy="20">-</tspan><tspan x="3048">Ref()</tspan><tspan class="c" x="3036" dy="20">-</tspan><tspan x="3048">Ref()</tspan><tspan class="c" x="3036" dy="20">-</tspan><tspan x="3048">_createBasicDeleter()</tspan><tspan class="c" x="3036" dy="20">-</tspan><tspan x="3048">_createBasicDeleter()</tspan><tspan class="c" x="3036" dy="20">-</tspan><tspan x="3048">_getDeleter()</tspan><tspan class="c" x="3036" dy="20">-</tspan><tspan x="3048">_getDeleter()</tspan></text>
</g>

<g id="ref_base_deleter_base">
<rect class="bl" x="3219" y="1329" width="213" height="204.5"/>
<path class="sl" d="M3219 1351.5h213M3219 1372.5h213"/>
<text class="t" x="3325.5" y="1345">Arccore::RefBase::DeleterBase</text>
<text><tspan class="c" x="3240" y="1365.5">#</tspan><tspan x="3264">m_no_destroy</tspan></text>
<text><tspan class="c" x="3240" y="1386.5">+</tspan><tspan x="3264">hasExternal()</tspan><tspan class="c" x="3240" dy="20">+</tspan><tspan x="3264">setNoDestroy()</tspan><tspan class="c" x="3240" dy="20">#</tspan><tspan x="3264">_destroyHandle()</tspan><tspan class="c" x="3240" dy="20">#</tspan><tspan x="3264">_destroyHandle()</tspan><tspan class="c" x="3240" dy="20">#</tspan><tspan x="3264">DeleterBase()</tspan><tspan class="c" x="3240" dy="20">#</tspan><tspan x="3264">DeleterBase()</tspan><tspan class="c" x="3240" dy="20">#</tspan><tspan x="3264">DeleterBase()</tspan><tspan class="c" x="3240" dy="20">-</tspan><tspan x="3264">_destroyHandleTrue()</tspan></text>
</g>

<g id="case_option_base_private">
<rect class="b" x="511" y="2063.5" width="220" height="84.5"/>
<path class="s" d="M511 2086h220M511 2127h220"/>
<text class="t" x="621" y="2079.5">Arcane::CaseOptionBasePrivate</text>
<text><tspan class="c" x="528.6" y="2100">+</tspan><tspan x="548">m_is_initialized</tspan><tspan class="c" x="528.6" dy="20">+</tspan><tspan x="548">m_is_override_default</tspan></text>
<text><tspan class="c" x="528.6" y="2141">+</tspan><tspan x="548">CaseOptionBasePrivate()</tspan></text>
</g>

<g id="array">
<rect class="b" x="1148" y="1892" width="191" height="426.9"/>
<path class="s" d="M1148 1914.5h191M1148 1935h191"/>
<text class="t" x="1243.5" y="1908">Arccore::Array&lt; T &gt;</text>
<text><tspan class="c" x="1158" y="1949">+</tspan><tspan x="1171">~Array()</tspan><tspan class="c" x="1158" dy="20">+</tspan><tspan x="1171">operator ConstArrayView</tspan><tspan x="1171" dy="14.3">&lt; T &gt;()</tspan><tspan class="c" x="1158" dy="20">+</tspan><tspan x="1171">operator ArrayView</tspan><tspan x="1171" dy="14.3">&lt; T &gt;()</tspan><tspan class="c" x="1158" dy="20">+</tspan><tspan x="1171">operator Span&lt; const</tspan><tspan x="1175" dy="14.3">T &gt;()</tspan><tspan class="c" x="1158" dy="20">+</tspan><tspan x="1171">operator Span&lt; T &gt;()</tspan><tspan class="c" x="1158" dy="20">+</tspan><tspan x="1171">constView()</tspan><tspan class="c" x="1158" dy="20">+</tspan><tspan x="1171">constSpan()</tspan><tspan class="c" x="1158" dy="20">+</tspan><tspan x="1171">subConstView()</tspan><tspan class="c" x="1158" dy="20">+</tspan><tspan x="1171">view()</tspan><tspan class="c" x="1158" dy="20">+</tspan><tspan x="1171">span()</tspan><tspan x="1171" dy="20">et 53 de plus...</tspan><tspan class="c" x="1158" dy="20">#</tspan><tspan x="1171">Array()</tspan><tspan class="c" x="1158" dy="20">#</tspan><tspan x="1171">Array()</tspan><tspan class="c" x="1158" dy="20">#</tspan><tspan x="1171">_initFromInitializerList()</tspan><tspan class="c" x="1158" dy="20">-</tspan><tspan x="1171">Array()</tspan><tspan class="c" x="1158" dy="20">-</tspan><tspan x="1171">operator=()</tspan><tspan class="c" x="1158" dy="20">-</tspan><tspan x="1171">TV_ttf_display_type()</tspan></text>
</g>

<g id="case_options_private">
<rect class="b" x="2076" y="2023" width="205" height="164.5"/>
<path class="s" d="M2076 2045.5h205M2076 2126.5h205"/>
<text class="t" x="2178.5" y="2039">Arcane::CaseOptionsPrivate</text>
<text><tspan class="c" x="2087" y="2059.5">+</tspan><tspan x="2099">m_is_multi</tspan><tspan class="c" x="2087" dy="20">+</tspan><tspan x="2099">m_is_translated_name_set</tspan><tspan class="c" x="2087" dy="20">+</tspan><tspan x="2099">m_is_phase1_read</tspan><tspan class="c" x="2087" dy="20">+</tspan><tspan x="2099">m_is_case_mng_registered</tspan></text>
<text><tspan class="c" x="2087" y="2140.5">+</tspan><tspan x="2099">CaseOptionsPrivate()</tspan><tspan class="c" x="2087" dy="20">+</tspan><tspan x="2099">CaseOptionsPrivate()</tspan><tspan class="c" x="2087" dy="20">+</tspan><tspan x="2099">~CaseOptionsPrivate()</tspan></text>
</g>

<g id="reference_counter_impl">
<rect class="b" x="2306" y="2003" width="217" height="204.5"/>
<path class="s" d="M2306 2025.5h217M2306 2046.5h217"/>
<text class="t" x="2414.5" y="2019">Arccore::ReferenceCounterImpl</text>
<text><tspan class="c" x="2317" y="2039.5">-</tspan><tspan x="2329.5">m_nb_ref</tspan></text>
<text><tspan class="c" x="2317" y="2060.5">+</tspan><tspan x="2329.5">~ReferenceCounterImpl()</tspan><tspan class="c" x="2317" dy="20">+</tspan><tspan x="2329.5">addReference()</tspan><tspan class="c" x="2317" dy="20">+</tspan><tspan x="2329.5">removeReference()</tspan><tspan class="c" x="2317" dy="20">+</tspan><tspan x="2329.5">_internalAddReference()</tspan><tspan class="c" x="2317" dy="20">+</tspan><tspan x="2329.5">_internalRemoveReference()</tspan><tspan class="c" x="2317" dy="20">-</tspan><tspan x="2329.5">_setExternalDeleter()</tspan><tspan class="c" x="2317" dy="20">-</tspan><tspan x="2329.5">_externalDeleter()</tspan><tspan class="c" x="2317" dy="20">-</tspan><tspan x="2329.5">_destroyThisReference()</tspan></text>
</g>

<g id="icase_options">
<rect class="b" x="2548" y="1946" width="246" height="318.3"/>
<path class="s" d="M2548 1968.5h246M2548 1989h246"/>
<text class="t" x="2671" y="1962">Arcane::ICaseOptions</text>
<text><tspan class="c" x="2559" y="2003">+</tspan><tspan x="2571.5">rootTagTrueName()</tspan><tspan class="c" x="2559" dy="20">+</tspan><tspan x="2571.5">rootTagName()</tspan><tspan class="c" x="2559" dy="20">+</tspan><tspan x="2571.5">translatedName()</tspan><tspan class="c" x="2559" dy="20">+</tspan><tspan x="2571.5">read()</tspan><tspan class="c" x="2559" dy="20">+</tspan><tspan x="2571.5">read()</tspan><tspan class="c" x="2559" dy="20">+</tspan><tspan x="2571.5">addInvalidChildren()</tspan><tspan class="c" x="2559" dy="20">+</tspan><tspan x="2571.5">printChildren()</tspan><tspan class="c" x="2559" dy="20">+</tspan><tspan x="2571.5">caseServiceInfo()</tspan><tspan class="c" x="2559" dy="20">+</tspan><tspan x="2571.5">caseModule()</tspan><tspan class="c" x="2559" dy="20">+</tspan><tspan x="2571.5">setCaseServiceInfo()</tspan><tspan x="2571.5" dy="20">et 18 de plus...</tspan><tspan class="c" x="2559" dy="20">#</tspan><tspan x="2571.5">~ICaseOptions()</tspan><tspan class="c" x="2559" dy="20">-</tspan><tspan x="2571.5">ARCCORE_DECLARE_REFERENCE</tspan><tspan x="2571.5" dy="14.3">_COUNTED_INCLASS_METHODS()</tspan></text>
</g>

<g id="case_option_base">
<rect class="b" x="517" y="2413" width="209" height="524"/>
<path class="s" d="M517 2435.5h209M517 2456h209"/>
<text class="t" x="621.5" y="2429">Arcane::CaseOptionBase</text>
<text><tspan class="c" x="528" y="2470">+</tspan><tspan x="540">~CaseOptionBase()</tspan><tspan class="c" x="528" dy="20">+</tspan><tspan x="540">trueName()</tspan><tspan class="c" x="528" dy="20">+</tspan><tspan x="540">name()</tspan><tspan class="c" x="528" dy="20">+</tspan><tspan x="540">translatedName()</tspan><tspan class="c" x="528" dy="20">+</tspan><tspan x="540">search()</tspan><tspan class="c" x="528" dy="20">+</tspan><tspan x="540">print()</tspan><tspan class="c" x="528" dy="20">+</tspan><tspan x="540">caseMng()</tspan><tspan class="c" x="528" dy="20">+</tspan><tspan x="540">parentOptionList()</tspan><tspan class="c" x="528" dy="20">+</tspan><tspan x="540">traceMng()</tspan><tspan class="c" x="528" dy="20">+</tspan><tspan x="540">subDomain()</tspan><tspan x="540" dy="20">et 12 de plus...</tspan><tspan class="c" x="528" dy="20">#</tspan><tspan x="540">CaseOptionBase()</tspan><tspan class="c" x="528" dy="20">#</tspan><tspan x="540">_defaultValue()</tspan><tspan class="c" x="528" dy="20">#</tspan><tspan x="540">_setDefaultValue()</tspan><tspan class="c" x="528" dy="20">#</tspan><tspan x="540">_search()</tspan><tspan class="c" x="528" dy="20">#</tspan><tspan x="540">_setIsInitialized()</tspan><tspan class="c" x="528" dy="20">#</tspan><tspan x="540">_isInitialized()</tspan><tspan class="c" x="528" dy="20">#</tspan><tspan x="540">_checkIsInitialized()</tspan><tspan class="c" x="528" dy="20">#</tspan><tspan x="540">_checkMinMaxOccurs()</tspan><tspan class="c" x="528" dy="20">#</tspan><tspan x="540">_xpathFullName()</tspan><tspan class="c" x="528" dy="20">-</tspan><tspan x="540">_setTranslatedName()</tspan><tspan class="c" x="528" dy="20">-</tspan><tspan x="540">_setCategoryDefaultValue()</tspan><tspan class="c" x="528" dy="20">-</tspan><tspan x="540">CaseOptionBase()</tspan><tspan class="c" x="528" dy="20">-</tspan><tspan x="540">operator=()</tspan></text>
</g>

<g id="istandard_function">
<rect class="b" x="750" y="2603" width="226" height="144"/>
<path class="s" d="M750 2625.5h226M750 2646h226"/>
<text class="t" x="863" y="2619">Arcane::IStandardFunction</text>
<text><tspan class="c" x="761" y="2660">+</tspan><tspan x="773">~IStandardFunction()</tspan><tspan class="c" x="761" dy="20">+</tspan><tspan x="773">getFunctorRealRealToReal()</tspan><tspan class="c" x="761" dy="20">+</tspan><tspan x="773">getFunctorRealReal3ToReal()</tspan><tspan class="c" x="761" dy="20">+</tspan><tspan x="773">getFunctorRealRealToReal3()</tspan><tspan class="c" x="761" dy="20">+</tspan><tspan x="773">getFunctorRealReal3ToReal3()</tspan></text>
</g>

<g id="iphysical_unit_converter">
<rect class="b" x="999.5" y="2603" width="216" height="144"/>
<path class="s" d="M999.5 2625.5h216M999.5 2646h216"/>
<text class="t" x="1107.5" y="2619">Arcane::IPhysicalUnitConverter</text>
<text><tspan class="c" x="1014" y="2660">+</tspan><tspan x="1030">~IPhysicalUnitConverter()</tspan><tspan class="c" x="1014" dy="20">+</tspan><tspan x="1030">convert()</tspan><tspan class="c" x="1014" dy="20">+</tspan><tspan x="1030">convert()</tspan><tspan class="c" x="1014" dy="20">+</tspan><tspan x="1030">fromUnit()</tspan><tspan class="c" x="1014" dy="20">+</tspan><tspan x="1030">toUnit()</tspan></text>
</g>

<g id="unique_array">
<rect class="b" x="1382" y="2536" width="210" height="278.5"/>
<path class="s" d="M1382 2573h210M1382 2593.5h210"/>
<text x="1388" y="2551.5">Arccore::UniqueArray<tspan x="1388" dy="14.3">&lt; Arcane::ICaseOptionList * &gt;</tspan></text>
<text><tspan class="c" x="1413" y="2607.5">+</tspan><tspan x="1446">UniqueArray()</tspan><tspan class="c" x="1413" dy="20">+</tspan><tspan x="1446">UniqueArray()</tspan><tspan class="c" x="1413" dy="20">+</tspan><tspan x="1446">UniqueArray()</tspan><tspan class="c" x="1413" dy="20">+</tspan><tspan x="1446">UniqueArray()</tspan><tspan class="c" x="1413" dy="20">+</tspan><tspan x="1446">UniqueArray()</tspan><tspan class="c" x="1413" dy="20">+</tspan><tspan x="1446">UniqueArray()</tspan><tspan class="c" x="1413" dy="20">+</tspan><tspan x="1446">UniqueArray()</tspan><tspan class="c" x="1413" dy="20">+</tspan><tspan x="1446">UniqueArray()</tspan><tspan class="c" x="1413" dy="20">+</tspan><tspan x="1446">UniqueArray()</tspan><tspan class="c" x="1413" dy="20">+</tspan><tspan x="1446">UniqueArray()</tspan><tspan x="1446" dy="20">et 27 de plus...</tspan></text>
</g>

<g id="icase_options_multi">
<rect class="b" x="1814.5" y="2593" width="187" height="164"/>
<path class="s" d="M1814.5 2615.5h187M1814.5 2636h187"/>
<text class="t" x="1908" y="2609">Arcane::ICaseOptionsMulti</text>
<text><tspan class="c" x="1829" y="2650">+</tspan><tspan x="1845">~ICaseOptionsMulti()</tspan><tspan class="c" x="1829" dy="20">+</tspan><tspan x="1845">multiAllocate()</tspan><tspan class="c" x="1829" dy="20">+</tspan><tspan x="1845">toCaseOptions()</tspan><tspan class="c" x="1829" dy="20">+</tspan><tspan x="1845">addChild()</tspan><tspan class="c" x="1829" dy="20">+</tspan><tspan x="1845">nbChildren()</tspan><tspan class="c" x="1829" dy="20">+</tspan><tspan x="1845">child()</tspan></text>
</g>

<g id="case_options">
<rect class="b" x="2168" y="2426" width="269" height="498.3"/>
<path class="s" d="M2168 2448.5h269M2168 2469h269"/>
<text class="t" x="2302.5" y="2442">Arcane::CaseOptions</text>
<text><tspan class="c" x="2178.5" y="2483">+</tspan><tspan x="2191">CaseOptions()</tspan><tspan class="c" x="2178.5" dy="20">+</tspan><tspan x="2191">CaseOptions()</tspan><tspan class="c" x="2178.5" dy="20">+</tspan><tspan x="2191">CaseOptions()</tspan><tspan class="c" x="2178.5" dy="20">+</tspan><tspan x="2191">CaseOptions()</tspan><tspan class="c" x="2178.5" dy="20">+</tspan><tspan x="2191">~CaseOptions()</tspan><tspan class="c" x="2178.5" dy="20">+</tspan><tspan x="2191">rootTagTrueName()</tspan><tspan class="c" x="2178.5" dy="20">+</tspan><tspan x="2191">rootTagName()</tspan><tspan class="c" x="2178.5" dy="20">+</tspan><tspan x="2191">translatedName()</tspan><tspan class="c" x="2178.5" dy="20">+</tspan><tspan x="2191">trueName()</tspan><tspan class="c" x="2178.5" dy="20">+</tspan><tspan x="2191">name()</tspan><tspan x="2191" dy="20">et 25 de plus...</tspan><tspan class="c" x="2178.5" dy="20">#</tspan><tspan x="2191">CaseOptions()</tspan><tspan class="c" x="2178.5" dy="20">#</tspan><tspan x="2191">CaseOptions()</tspan><tspan class="c" x="2178.5" dy="20">#</tspan><tspan x="2191">_setTranslatedName()</tspan><tspan class="c" x="2178.5" dy="20">#</tspan><tspan x="2191">_setMeshHandleAndCheckDisabled()</tspan><tspan class="c" x="2178.5" dy="20">-</tspan><tspan x="2191">ARCCORE_DEFINE_REFERENCE</tspan><tspan x="2191" dy="14.3">_COUNTED_INCLASS_METHODS()</tspan><tspan class="c" x="2178.5" dy="20">-</tspan><tspan x="2191">CaseOptions()</tspan><tspan class="c" x="2178.5" dy="20">-</tspan><tspan x="2191">CaseOptions()</tspan><tspan class="c" x="2178.5" dy="20">-</tspan><tspan x="2191">operator=()</tspan><tspan class="c" x="2178.5" dy="20">-</tspan><tspan x="2191">_setMeshHandle()</tspan><tspan class="c" x="2178.5" dy="20">-</tspan><tspan x="2191">_setParent()</tspan><tspan class="c" x="2178.5" dy="20">-</tspan><tspan x="2191">createDynamic()</tspan></text>
</g>

<g id="case_option_simple">
<rect class="b" x="742.6" y="3001" width="240" height="593.1"/>
<path class="s" d="M742.6 3023.5h240M742.6 3098.8h240"/>
<text class="t" x="862.6" y="3017">Arcane::CaseOptionSimple</text>
<text><tspan class="c" x="752.5" y="3037.5">-</tspan><tspan x="765">m_changed_since_last</tspan><tspan x="765" dy="14.3">_iteration</tspan><tspan class="c" x="752.5" dy="20">-</tspan><tspan x="765">m_is_optional</tspan><tspan class="c" x="752.5" dy="20">-</tspan><tspan x="765">m_has_valid_value</tspan></text>
<text><tspan class="c" x="752.5" y="3112.8">+</tspan><tspan x="765">CaseOptionSimple()</tspan><tspan class="c" x="752.5" dy="20">+</tspan><tspan x="765">CaseOptionSimple()</tspan><tspan class="c" x="752.5" dy="20">+</tspan><tspan x="765">~CaseOptionSimple()</tspan><tspan class="c" x="752.5" dy="20">+</tspan><tspan x="765">isPresent()</tspan><tspan class="c" x="752.5" dy="20">+</tspan><tspan x="765">element()</tspan><tspan class="c" x="752.5" dy="20">+</tspan><tspan x="765">function()</tspan><tspan class="c" x="752.5" dy="20">+</tspan><tspan x="765">standardFunction()</tspan><tspan class="c" x="752.5" dy="20">+</tspan><tspan x="765">hasChangedSinceLastIteration()</tspan><tspan class="c" x="752.5" dy="20">+</tspan><tspan x="765">xpathFullName()</tspan><tspan class="c" x="752.5" dy="20">+</tspan><tspan x="765">defaultPhysicalUnit()</tspan><tspan class="c" x="752.5" dy="20">+</tspan><tspan x="765">physicalUnit()</tspan><tspan class="c" x="752.5" dy="20">+</tspan><tspan x="765">physicalUnitConverter()</tspan><tspan class="c" x="752.5" dy="20">+</tspan><tspan x="765">isOptional()</tspan><tspan class="c" x="752.5" dy="20">+</tspan><tspan x="765">hasValidValue()</tspan><tspan class="c" x="752.5" dy="20">+</tspan><tspan x="765">visit()</tspan><tspan class="c" x="752.5" dy="20">#</tspan><tspan x="765">_search()</tspan><tspan class="c" x="752.5" dy="20">#</tspan><tspan x="765">_allowPhysicalUnit()</tspan><tspan class="c" x="752.5" dy="20">#</tspan><tspan x="765">_setChangedSinceLastIteration()</tspan><tspan class="c" x="752.5" dy="20">#</tspan><tspan x="765">_searchFunction()</tspan><tspan class="c" x="752.5" dy="20">#</tspan><tspan x="765">_setPhysicalUnit()</tspan><tspan class="c" x="752.5" dy="20">#</tspan><tspan x="765">_setHasValidValue()</tspan><tspan class="c" x="752.5" dy="20">#</tspan><tspan x="765">_element()</tspan><tspan class="c" x="752.5" dy="20">#</tspan><tspan x="765">_convertFunctionRealToString()</tspan><tspan class="c" x="752.5" dy="20">#</tspan><tspan x="765">_convertFunctionIntegerTo</tspan><tspan x="765" dy="14.3">String()</tspan></text>
</g>

<g id="checked_pointer_2">
<rect class="b" x="306" y="3156" width="210" height="284.5"/>
<path class="s" d="M306 3178.5h210M306 3199.5h210"/>
<text class="t" x="411" y="3172">Arccore::CheckedPointer&lt; T &gt;</text>
<text><tspan class="c" x="333" y="3193">#</tspan><tspan x="362">m_value</tspan></text>
<text><tspan class="c" x="333" y="3214">+</tspan><tspan x="362">CheckedPointer()</tspan><tspan class="c" x="333" dy="20">+</tspan><tspan x="362">CheckedPointer()</tspan><tspan class="c" x="333" dy="20">+</tspan><tspan x="362">operator bool()</tspan><tspan class="c" x="333" dy="20">+</tspan><tspan x="362">operator-&gt;()</tspan><tspan class="c" x="333" dy="20">+</tspan><tspan x="362">operator*()</tspan><tspan class="c" x="333" dy="20">+</tspan><tspan x="362">get()</tspan><tspan class="c" x="333" dy="20">+</tspan><tspan x="362">isNull()</tspan><tspan class="c" x="333" dy="20">#</tspan><tspan x="362">operator=()</tspan><tspan class="c" x="333" dy="20">#</tspan><tspan x="362">operator=()</tspan><tspan class="c" x="333" dy="20">#</tspan><tspan x="362">operator=()</tspan><tspan class="c" x="333" dy="20">#</tspan><tspan x="362">CheckedPointer()</tspan><tspan class="c" x="333" dy="20">#</tspan><tspan x="362">CheckedPointer()</tspan></text>
</g>

<g id="case_option_traits_integer">
<rect class="bl" x="540.6" y="3258" width="177.5" height="80"/>
<path class="sl" d="M540.6 3295h177.5M540.6 3316.5h177.5"/>
<text class="t" x="629.35" y="3273.5">Arcane::CaseOptionTraits<tspan x="629.35" dy="14.3">T&lt; Integer &gt;</tspan></text>
</g>
<g id="case_option_traits_bool">
<rect class="bl" x="1007" y="3258" width="177.5" height="80"/>
<path class="sl" d="M1007 3295h177.5M1007 3316.5h177.5"/>
<text class="t" x="1095.75" y="3273.5">Arcane::CaseOptionTraits<tspan x="1095.75" dy="14.3">T&lt; bool &gt;</tspan></text>
</g>
<g id="case_option_traits_real2">
<rect class="bl" x="1209" y="3258" width="177.5" height="80"/>
<path class="sl" d="M1209 3295h177.5M1209 3316.5h177.5"/>
<text class="t" x="1297.75" y="3273.5">Arcane::CaseOptionTraits<tspan x="1297.75" dy="14.3">T&lt; Real2 &gt;</tspan></text>
</g>

<g id="array_view_1">
<rect class="b" x="1468" y="3086" width="176" height="424.5"/>
<path class="s" d="M1468 3108.5h176M1468 3149.5h176"/>
<text class="t" x="1556" y="3102">Arccore::ArrayView&lt; T &gt;</text>
<text><tspan class="c" x="1491" y="3122.5">-</tspan><tspan x="1516">m_size</tspan><tspan class="c" x="1491" dy="20">-</tspan><tspan x="1516">m_ptr</tspan></text>
<text><tspan class="c" x="1491" y="3163.5">+</tspan><tspan x="1516">ArrayView()</tspan><tspan class="c" x="1491" dy="20">+</tspan><tspan x="1516">ArrayView()</tspan><tspan class="c" x="1491" dy="20">+</tspan><tspan x="1516">ArrayView()</tspan><tspan class="c" x="1491" dy="20">+</tspan><tspan x="1516">ArrayView()</tspan><tspan class="c" x="1491" dy="20">+</tspan><tspan x="1516">operator=()</tspan><tspan class="c" x="1491" dy="20">+</tspan><tspan x="1516">operator=()</tspan><tspan class="c" x="1491" dy="20">+</tspan><tspan x="1516">operator[]()</tspan><tspan class="c" x="1491" dy="20">+</tspan><tspan x="1516">operator[]()</tspan><tspan class="c" x="1491" dy="20">+</tspan><tspan x="1516">operator()()</tspan><tspan class="c" x="1491" dy="20">+</tspan><tspan x="1516">operator()()</tspan><tspan x="1516" dy="20">et 33 de plus...</tspan><tspan class="c" x="1491" dy="20">+</tspan><tspan x="1516">create()</tspan><tspan class="c" x="1491" dy="20">#</tspan><tspan x="1516">_ptr()</tspan><tspan class="c" x="1491" dy="20">#</tspan><tspan x="1516">_ptr()</tspan><tspan class="c" x="1491" dy="20">#</tspan><tspan x="1516">_setArray()</tspan><tspan class="c" x="1491" dy="20">#</tspan><tspan x="1516">_setPtr()</tspan><tspan class="c" x="1491" dy="20">#</tspan><tspan x="1516">_setSize()</tspan><tspan class="c" x="1491" dy="20">-</tspan><tspan x="1516">_min()</tspan></text>
</g>

<g id="array_view_2">
<rect class="b" x="1935" y="3086" width="176" height="424.5"/>
<path class="s" d="M1935 3108.5h176M1935 3149.5h176"/>
<text class="t" x="2023" y="3102">Arccore::ArrayView&lt; T &gt;</text>
<text><tspan class="c" x="1958" y="3122.5">-</tspan><tspan x="1983">m_size</tspan><tspan class="c" x="1958" dy="20">-</tspan><tspan x="1983">m_ptr</tspan></text>
<text><tspan class="c" x="1958" y="3163.5">+</tspan><tspan x="1983">ArrayView()</tspan><tspan class="c" x="1958" dy="20">+</tspan><tspan x="1983">ArrayView()</tspan><tspan class="c" x="1958" dy="20">+</tspan><tspan x="1983">ArrayView()</tspan><tspan class="c" x="1958" dy="20">+</tspan><tspan x="1983">ArrayView()</tspan><tspan class="c" x="1958" dy="20">+</tspan><tspan x="1983">operator=()</tspan><tspan class="c" x="1958" dy="20">+</tspan><tspan x="1983">operator=()</tspan><tspan class="c" x="1958" dy="20">+</tspan><tspan x="1983">operator[]()</tspan><tspan class="c" x="1958" dy="20">+</tspan><tspan x="1983">operator[]()</tspan><tspan class="c" x="1958" dy="20">+</tspan><tspan x="1983">operator()()</tspan><tspan class="c" x="1958" dy="20">+</tspan><tspan x="1983">operator()()</tspan><tspan x="1983" dy="20">et 33 de plus...</tspan><tspan class="c" x="1958" dy="20">+</tspan><tspan x="1983">create()</tspan><tspan class="c" x="1958" dy="20">#</tspan><tspan x="1983">_ptr()</tspan><tspan class="c" x="1958" dy="20">#</tspan><tspan x="1983">_ptr()</tspan><tspan class="c" x="1958" dy="20">#</tspan><tspan x="1983">_setArray()</tspan><tspan class="c" x="1958" dy="20">#</tspan><tspan x="1983">_setPtr()</tspan><tspan class="c" x="1958" dy="20">#</tspan><tspan x="1983">_setSize()</tspan><tspan class="c" x="1958" dy="20">-</tspan><tspan x="1983">_min()</tspan></text>
</g>

<g id="case_options_multi">
<rect class="b" x="1727.7" y="3205.6" width="183" height="184"/>
<path class="s" d="M1727.7 3228.1h183M1727.7 3248.6h183"/>
<text class="t" x="1819.2" y="3221.6">Arcane::CaseOptionsMulti</text>
<text><tspan class="c" x="1743" y="3262.6">+</tspan><tspan x="1759">CaseOptionsMulti()</tspan><tspan class="c" x="1743" dy="20">+</tspan><tspan x="1759">CaseOptionsMulti()</tspan><tspan class="c" x="1743" dy="20">+</tspan><tspan x="1759">toCaseOptions()</tspan><tspan class="c" x="1743" dy="20">+</tspan><tspan x="1759">addChild()</tspan><tspan class="c" x="1743" dy="20">+</tspan><tspan x="1759">nbChildren()</tspan><tspan class="c" x="1743" dy="20">+</tspan><tspan x="1759">child()</tspan><tspan class="c" x="1743" dy="20">+</tspan><tspan x="1759">toCaseOptionsMulti()</tspan></text>
</g>

<g id="reference_counter_icase_options">
<rect class="b" x="426" y="3728.5" width="188" height="219"/>
<path class="s" d="M426 3765.5h188M426 3786.5h188"/>
<text x="433" y="3744">Arccore::ReferenceCounter<tspan x="433" dy="14.3">&lt; Arcane::ICaseOptions &gt;</tspan></text>
<text><tspan class="c" x="443" y="3779.5">+</tspan><tspan x="460">m_value</tspan></text>
<text><tspan class="c" x="443" y="3800.5">+</tspan><tspan x="460">ReferenceCounter()</tspan><tspan class="c" x="443" dy="20">+</tspan><tspan x="460">ReferenceCounter()</tspan><tspan class="c" x="443" dy="20">+</tspan><tspan x="460">ReferenceCounter()</tspan><tspan class="c" x="443" dy="20">+</tspan><tspan x="460">operator=()</tspan><tspan class="c" x="443" dy="20">+</tspan><tspan x="460">operator=()</tspan><tspan class="c" x="443" dy="20">+</tspan><tspan x="460">~ReferenceCounter()</tspan><tspan class="c" x="443" dy="20">-</tspan><tspan x="460">_removeRef()</tspan><tspan class="c" x="443" dy="20">-</tspan><tspan x="460">_changeValue()</tspan></text>
</g>

<g id="case_option_simple_t_integer">
<rect class="b" x="714" y="3658.5" width="212" height="358.5"/>
<path class="s" d="M714 3695.5h212M714 3716h212"/>
<text class="t" x="820" y="3674">Arcane::CaseOptionSimple<tspan x="820" dy="14.3">T&lt; Integer &gt;</tspan></text>
<text><tspan class="c" x="725.5" y="3730">+</tspan><tspan x="738">CaseOptionSimpleT()</tspan><tspan class="c" x="725.5" dy="20">+</tspan><tspan x="738">CaseOptionSimpleT()</tspan><tspan class="c" x="725.5" dy="20">+</tspan><tspan x="738">print()</tspan><tspan class="c" x="725.5" dy="20">+</tspan><tspan x="738">value()</tspan><tspan class="c" x="725.5" dy="20">+</tspan><tspan x="738">operator const Type &amp;()</tspan><tspan class="c" x="725.5" dy="20">+</tspan><tspan x="738">valueAtParameter()</tspan><tspan class="c" x="725.5" dy="20">+</tspan><tspan x="738">valueAtParameter()</tspan><tspan class="c" x="725.5" dy="20">+</tspan><tspan x="738">operator()()</tspan><tspan class="c" x="725.5" dy="20">+</tspan><tspan x="738">operator()()</tspan><tspan class="c" x="725.5" dy="20">+</tspan><tspan x="738">operator()()</tspan><tspan class="c" x="725.5" dy="20">+</tspan><tspan x="738">updateFromFunction()</tspan><tspan class="c" x="725.5" dy="20">+</tspan><tspan x="738">setDefaultValue()</tspan><tspan class="c" x="725.5" dy="20">+</tspan><tspan x="738">valueIfPresentOrArgument()</tspan><tspan class="c" x="725.5" dy="20">#</tspan><tspan x="738">_search()</tspan><tspan class="c" x="725.5" dy="20">#</tspan><tspan x="738">_allowPhysicalUnit()</tspan></text>
</g>

<g id="case_option_simple_t_bool">
<rect class="b" x="951" y="3658.5" width="211.5" height="358.5"/>
<path class="s" d="M951 3695.5h211.5M951 3716h211.5"/>
<text class="t" x="1056.75" y="3674">Arcane::CaseOptionSimple<tspan x="1056.75" dy="14.3">T&lt; bool &gt;</tspan></text>
<text><tspan class="c" x="962.5" y="3730">+</tspan><tspan x="975">CaseOptionSimpleT()</tspan><tspan class="c" x="962.5" dy="20">+</tspan><tspan x="975">CaseOptionSimpleT()</tspan><tspan class="c" x="962.5" dy="20">+</tspan><tspan x="975">print()</tspan><tspan class="c" x="962.5" dy="20">+</tspan><tspan x="975">value()</tspan><tspan class="c" x="962.5" dy="20">+</tspan><tspan x="975">operator const Type &amp;()</tspan><tspan class="c" x="962.5" dy="20">+</tspan><tspan x="975">valueAtParameter()</tspan><tspan class="c" x="962.5" dy="20">+</tspan><tspan x="975">valueAtParameter()</tspan><tspan class="c" x="962.5" dy="20">+</tspan><tspan x="975">operator()()</tspan><tspan class="c" x="962.5" dy="20">+</tspan><tspan x="975">operator()()</tspan><tspan class="c" x="962.5" dy="20">+</tspan><tspan x="975">operator()()</tspan><tspan class="c" x="962.5" dy="20">+</tspan><tspan x="975">updateFromFunction()</tspan><tspan class="c" x="962.5" dy="20">+</tspan><tspan x="975">setDefaultValue()</tspan><tspan class="c" x="962.5" dy="20">+</tspan><tspan x="975">valueIfPresentOrArgument()</tspan><tspan class="c" x="962.5" dy="20">#</tspan><tspan x="975">_search()</tspan><tspan class="c" x="962.5" dy="20">#</tspan><tspan x="975">_allowPhysicalUnit()</tspan></text>
</g>

<g id="case_option_simple_t_real2">
<rect class="b" x="1186" y="3658.5" width="212" height="358.5"/>
<path class="s" d="M1186 3695.5h212M1186 3716h212"/>
<text class="t" x="1292" y="3674">Arcane::CaseOptionSimple<tspan x="1292" dy="14.3">T&lt; Real2 &gt;</tspan></text>
<text><tspan class="c" x="1197.5" y="3730">+</tspan><tspan x="1210">CaseOptionSimpleT()</tspan><tspan class="c" x="1197.5" dy="20">+</tspan><tspan x="1210">CaseOptionSimpleT()</tspan><tspan class="c" x="1197.5" dy="20">+</tspan><tspan x="1210">print()</tspan><tspan class="c" x="1197.5" dy="20">+</tspan><tspan x="1210">value()</tspan><tspan class="c" x="1197.5" dy="20">+</tspan><tspan x="1210">operator const Type &amp;()</tspan><tspan class="c" x="1197.5" dy="20">+</tspan><tspan x="1210">valueAtParameter()</tspan><tspan class="c" x="1197.5" dy="20">+</tspan><tspan x="1210">valueAtParameter()</tspan><tspan class="c" x="1197.5" dy="20">+</tspan><tspan x="1210">operator()()</tspan><tspan class="c" x="1197.5" dy="20">+</tspan><tspan x="1210">operator()()</tspan><tspan class="c" x="1197.5" dy="20">+</tspan><tspan x="1210">operator()()</tspan><tspan class="c" x="1197.5" dy="20">+</tspan><tspan x="1210">updateFromFunction()</tspan><tspan class="c" x="1197.5" dy="20">+</tspan><tspan x="1210">setDefaultValue()</tspan><tspan class="c" x="1197.5" dy="20">+</tspan><tspan x="1210">valueIfPresentOrArgument()</tspan><tspan class="c" x="1197.5" dy="20">#</tspan><tspan x="1210">_search()</tspan><tspan class="c" x="1197.5" dy="20">#</tspan><tspan x="1210">_allowPhysicalUnit()</tspan></text>
</g>

<g id="case_option_part_info_x">
<rect class="bl" x="1423" y="3728.5" width="266" height="218.5"/>
<path class="sl" d="M1423 3765.5h266M1423 3786h266"/>
<text x="1430" y="3744">Arcane::CaseOptionsCartesian2<tspan x="1430" dy="14.3">DMeshGenerator::CaseOptionPartInfoX</tspan></text>
<text><tspan class="c" x="1454" y="3800">+</tspan><tspan x="1487">CaseOptionPartInfoX()</tspan><tspan class="c" x="1454" dy="20">+</tspan><tspan x="1487">operator()()</tspan><tspan class="c" x="1454" dy="20">+</tspan><tspan x="1487">~CaseOptionPartInfoX()</tspan><tspan class="c" x="1454" dy="20">+</tspan><tspan x="1487">operator[]()</tspan><tspan class="c" x="1454" dy="20">+</tspan><tspan x="1487">operator[]()</tspan><tspan class="c" x="1454" dy="20">+</tspan><tspan x="1487">count()</tspan><tspan class="c" x="1454" dy="20">+</tspan><tspan x="1487">size()</tspan><tspan class="c" x="1454" dy="20">#</tspan><tspan x="1487">multiAllocate()</tspan></text>
</g>

<g id="case_option_part_info_y">
<rect class="bl" x="1714" y="3728.5" width="265" height="218.5"/>
<path class="sl" d="M1714 3765.5h265M1714 3786h265"/>
<text x="1721" y="3744">Arcane::CaseOptionsCartesian2<tspan x="1721" dy="14.3">DMeshGenerator::CaseOptionPartInfoY</tspan></text>
<text><tspan class="c" x="1745" y="3800">+</tspan><tspan x="1778">CaseOptionPartInfoY()</tspan><tspan class="c" x="1745" dy="20">+</tspan><tspan x="1778">operator()()</tspan><tspan class="c" x="1745" dy="20">+</tspan><tspan x="1778">~CaseOptionPartInfoY()</tspan><tspan class="c" x="1745" dy="20">+</tspan><tspan x="1778">operator[]()</tspan><tspan class="c" x="1745" dy="20">+</tspan><tspan x="1778">operator[]()</tspan><tspan class="c" x="1745" dy="20">+</tspan><tspan x="1778">count()</tspan><tspan class="c" x="1745" dy="20">+</tspan><tspan x="1778">size()</tspan><tspan class="c" x="1745" dy="20">#</tspan><tspan x="1778">multiAllocate()</tspan></text>
</g>

<g id="case_options_cartesian2d_mesh_generator">
<rect class="bm" x="1061" y="4110.6" width="225.5" height="352.8"/>
<path class="s" d="M1061 4147.6h225.5M1061 4168h225.5"/>
<text class="t" x="1173.75" y="4126">Arcane::CaseOptionsCartesian2<tspan x="1173.75" dy="14.3">DMeshGenerator</tspan></text>
<text><tspan class="c" x="1071.6" y="4182">+</tspan><tspan x="1084">CaseOptionsCartesian2DMesh</tspan><tspan x="1084" dy="14.3">Generator()</tspan><tspan class="c" x="1071.6" dy="20">+</tspan><tspan x="1084">getOrigin()</tspan><tspan class="c" x="1071.6" dy="20">+</tspan><tspan x="1084">getOriginFunction()</tspan><tspan class="c" x="1071.6" dy="20">+</tspan><tspan x="1084">getOriginStandardFunction()</tspan><tspan class="c" x="1071.6" dy="20">+</tspan><tspan x="1084">getNbPartX()</tspan><tspan class="c" x="1071.6" dy="20">+</tspan><tspan x="1084">getNbPartXFunction()</tspan><tspan class="c" x="1071.6" dy="20">+</tspan><tspan x="1084">getNbPartXStandardFunction()</tspan><tspan class="c" x="1071.6" dy="20">+</tspan><tspan x="1084">getNbPartY()</tspan><tspan class="c" x="1071.6" dy="20">+</tspan><tspan x="1084">getNbPartYFunction()</tspan><tspan class="c" x="1071.6" dy="20">+</tspan><tspan x="1084">getNbPartYStandardFunction()</tspan><tspan x="1084" dy="20">et 11 de plus...</tspan><tspan class="c" x="1071.6" dy="20">-</tspan><tspan x="1084">_configList()</tspan><tspan class="c" x="1071.6" dy="20">-</tspan><tspan x="1084">_element()</tspan><tspan class="c" x="1071.6" dy="20">-</tspan><tspan x="1084">_createCaseOption()</tspan></text>
</g>
</g>
</svg>
